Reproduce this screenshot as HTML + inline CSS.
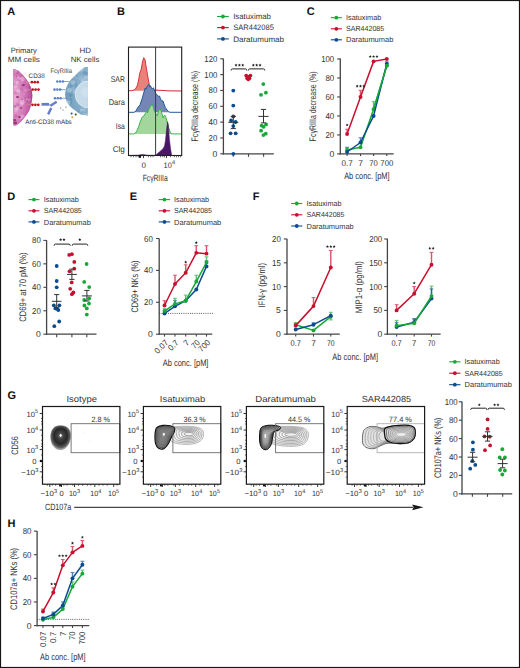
<!DOCTYPE html>
<html><head><meta charset="utf-8"><title>Figure</title>
<style>
html,body{margin:0;padding:0;background:#fff;}
body{width:520px;height:668px;overflow:hidden;}
svg{display:block;font-family:"Liberation Sans", sans-serif;fill:#333333;text-rendering:geometricPrecision;}
</style></head>
<body>
<svg width="520" height="668" viewBox="0 0 520 668">
<rect x="0" y="0" width="520" height="668" fill="#fff"/>
<text x="7.3" y="15.3" font-size="11" fill="#111" font-weight="bold">A</text>
<text x="23.8" y="52.6" font-size="7.6" text-anchor="middle" textLength="26.2" lengthAdjust="spacingAndGlyphs">Primary</text>
<text x="23.8" y="62.2" font-size="7.6" text-anchor="middle" textLength="32" lengthAdjust="spacingAndGlyphs">MM cells</text>
<text x="85.2" y="52.8" font-size="7.6" text-anchor="middle" textLength="11.5" lengthAdjust="spacingAndGlyphs">HD</text>
<text x="85" y="62.3" font-size="7.6" text-anchor="middle" textLength="28.6" lengthAdjust="spacingAndGlyphs">NK cells</text>
<defs><radialGradient id="pk" cx="0.05" cy="0.5" r="0.95"><stop offset="0" stop-color="#e6a9d2"/><stop offset="0.55" stop-color="#d37ab8"/><stop offset="0.85" stop-color="#c25aa3"/><stop offset="1" stop-color="#a8408a"/></radialGradient><radialGradient id="bl" cx="0.95" cy="0.5" r="0.95"><stop offset="0" stop-color="#9fc0d6"/><stop offset="0.6" stop-color="#80a9c6"/><stop offset="1" stop-color="#6d9bbd"/></radialGradient><clipPath id="pc"><path d="M13.4,68.9 C14.15,69.15 16.33,69.4 17.9,70.4 C19.47,71.4 21.15,73.08 22.8,74.9 C24.45,76.72 26.4,79 27.8,81.3 C29.2,83.6 30.45,86.32 31.2,88.7 C31.95,91.08 32.28,93.13 32.3,95.6 C32.32,98.07 31.82,101.03 31.3,103.5 C30.78,105.97 30.2,108.27 29.2,110.4 C28.2,112.53 26.7,114.4 25.3,116.3 C23.9,118.2 22.28,120.32 20.8,121.8 C19.32,123.28 17.63,124.57 16.4,125.2 C15.17,125.83 13.9,125.53 13.4,125.6 Z"/></clipPath><clipPath id="bc"><path d="M87.9,67 C87.42,67.05 86.32,66.68 85,67.3 C83.68,67.92 81.72,69.27 80,70.7 C78.28,72.13 76.3,74.32 74.7,75.9 C73.1,77.48 71.77,78.32 70.4,80.2 C69.03,82.08 67.37,84.73 66.5,87.2 C65.63,89.67 65.2,92.7 65.2,95 C65.2,97.3 65.7,99.13 66.5,101 C67.3,102.87 68.55,104.6 70,106.2 C71.45,107.8 73.4,109.22 75.2,110.6 C77,111.98 78.68,113.63 80.8,114.5 C82.92,115.37 86.72,115.58 87.9,115.8 Z"/></clipPath></defs>
<path d="M13.4,68.9 C14.15,69.15 16.33,69.4 17.9,70.4 C19.47,71.4 21.15,73.08 22.8,74.9 C24.45,76.72 26.4,79 27.8,81.3 C29.2,83.6 30.45,86.32 31.2,88.7 C31.95,91.08 32.28,93.13 32.3,95.6 C32.32,98.07 31.82,101.03 31.3,103.5 C30.78,105.97 30.2,108.27 29.2,110.4 C28.2,112.53 26.7,114.4 25.3,116.3 C23.9,118.2 22.28,120.32 20.8,121.8 C19.32,123.28 17.63,124.57 16.4,125.2 C15.17,125.83 13.9,125.53 13.4,125.6 Z" fill="url(#pk)" stroke="none" stroke-width="1"/>
<g clip-path="url(#pc)">
<circle cx="19.48" cy="77.6" r="1.97" fill="#f2c8e4" opacity="0.41"/>
<circle cx="20.31" cy="72.31" r="1.71" fill="#f2c8e4" opacity="0.38"/>
<circle cx="14.4" cy="74.17" r="1.09" fill="#a53d86" opacity="0.24"/>
<circle cx="17.46" cy="104.76" r="1.75" fill="#a53d86" opacity="0.32"/>
<circle cx="32.53" cy="71.66" r="2.35" fill="#f2c8e4" opacity="0.29"/>
<circle cx="15.36" cy="86.58" r="2.27" fill="#f2c8e4" opacity="0.42"/>
<circle cx="25.78" cy="90.23" r="1.79" fill="#f2c8e4" opacity="0.27"/>
<circle cx="17.12" cy="107.78" r="1.57" fill="#f2c8e4" opacity="0.43"/>
<circle cx="22.06" cy="86.09" r="1.56" fill="#a53d86" opacity="0.27"/>
<circle cx="24.49" cy="98.94" r="1.66" fill="#a53d86" opacity="0.29"/>
<circle cx="32.6" cy="75.73" r="1.09" fill="#a53d86" opacity="0.25"/>
<circle cx="22.78" cy="71.23" r="1.4" fill="#a53d86" opacity="0.37"/>
<circle cx="30.51" cy="86.88" r="1.44" fill="#a53d86" opacity="0.37"/>
<circle cx="22.12" cy="116.88" r="2.5" fill="#f2c8e4" opacity="0.45"/>
<circle cx="14.21" cy="108.99" r="1.38" fill="#a53d86" opacity="0.45"/>
<circle cx="18.69" cy="90.99" r="2" fill="#f2c8e4" opacity="0.39"/>
<circle cx="16.36" cy="75.67" r="0.63" fill="#a53d86" opacity="0.24"/>
<circle cx="17.95" cy="91.28" r="2.37" fill="#f2c8e4" opacity="0.38"/>
<circle cx="23.99" cy="119.35" r="1.59" fill="#a53d86" opacity="0.28"/>
<circle cx="21.31" cy="89.45" r="1.67" fill="#a53d86" opacity="0.25"/>
<circle cx="16.52" cy="82.22" r="1.22" fill="#f2c8e4" opacity="0.43"/>
<circle cx="18.25" cy="69.23" r="1.55" fill="#f2c8e4" opacity="0.42"/>
<circle cx="32.06" cy="108.36" r="1.21" fill="#a53d86" opacity="0.4"/>
<circle cx="14.08" cy="120.27" r="1.54" fill="#a53d86" opacity="0.44"/>
<circle cx="20.85" cy="91.74" r="0.69" fill="#a53d86" opacity="0.22"/>
<circle cx="14.35" cy="80.9" r="1.09" fill="#f2c8e4" opacity="0.27"/>
<circle cx="13" cy="77.62" r="0.98" fill="#f2c8e4" opacity="0.26"/>
<circle cx="30.49" cy="104" r="1.07" fill="#f2c8e4" opacity="0.35"/>
<circle cx="20.28" cy="76" r="1.63" fill="#a53d86" opacity="0.34"/>
<circle cx="22.68" cy="73.9" r="0.98" fill="#f2c8e4" opacity="0.33"/>
<circle cx="29.58" cy="78.2" r="0.59" fill="#a53d86" opacity="0.36"/>
<circle cx="15.93" cy="99.96" r="0.85" fill="#f2c8e4" opacity="0.54"/>
<circle cx="30.27" cy="108.68" r="1.27" fill="#f2c8e4" opacity="0.3"/>
<circle cx="28.44" cy="99.36" r="2.2" fill="#f2c8e4" opacity="0.32"/>
<circle cx="29.23" cy="125.14" r="1.63" fill="#a53d86" opacity="0.45"/>
<circle cx="27.8" cy="81.92" r="1.73" fill="#f2c8e4" opacity="0.26"/>
<circle cx="13.56" cy="84.93" r="0.89" fill="#a53d86" opacity="0.49"/>
<circle cx="21.94" cy="122.41" r="1.8" fill="#a53d86" opacity="0.31"/>
<circle cx="17.41" cy="81.93" r="1.15" fill="#f2c8e4" opacity="0.44"/>
<circle cx="31.01" cy="116.9" r="1.16" fill="#a53d86" opacity="0.44"/>
<circle cx="14.7" cy="106.65" r="1.71" fill="#a53d86" opacity="0.43"/>
<circle cx="22.56" cy="79.18" r="2.22" fill="#f2c8e4" opacity="0.49"/>
<circle cx="32.43" cy="91.56" r="1.07" fill="#a53d86" opacity="0.42"/>
<circle cx="16.4" cy="76.24" r="0.75" fill="#a53d86" opacity="0.44"/>
<circle cx="15.92" cy="116.11" r="1.8" fill="#a53d86" opacity="0.31"/>
<circle cx="23.97" cy="76.47" r="0.58" fill="#a53d86" opacity="0.39"/>
<circle cx="23.53" cy="122.22" r="1.11" fill="#a53d86" opacity="0.45"/>
<circle cx="17.22" cy="83.35" r="1.33" fill="#f2c8e4" opacity="0.43"/>
<circle cx="18.19" cy="92.88" r="0.73" fill="#a53d86" opacity="0.31"/>
<circle cx="22.16" cy="102.25" r="2.43" fill="#f2c8e4" opacity="0.53"/>
<circle cx="23.03" cy="99.31" r="1.74" fill="#f2c8e4" opacity="0.38"/>
<circle cx="16.66" cy="69.22" r="2.24" fill="#f2c8e4" opacity="0.39"/>
<circle cx="27.5" cy="100.72" r="1.39" fill="#f2c8e4" opacity="0.42"/>
<circle cx="28.69" cy="75.05" r="1.81" fill="#f2c8e4" opacity="0.33"/>
<circle cx="28.45" cy="97.94" r="1.27" fill="#a53d86" opacity="0.47"/>
<circle cx="21.86" cy="103.91" r="1.71" fill="#f2c8e4" opacity="0.46"/>
<circle cx="22.05" cy="99.4" r="1.16" fill="#a53d86" opacity="0.41"/>
<circle cx="30.53" cy="122.7" r="0.89" fill="#a53d86" opacity="0.48"/>
<circle cx="29.8" cy="76.82" r="1.02" fill="#f2c8e4" opacity="0.27"/>
<circle cx="17.81" cy="73.17" r="1.4" fill="#a53d86" opacity="0.47"/>
<circle cx="16.09" cy="109.82" r="1.99" fill="#f2c8e4" opacity="0.51"/>
<circle cx="32.35" cy="81.52" r="2.51" fill="#f2c8e4" opacity="0.4"/>
<circle cx="32.8" cy="116.45" r="1.09" fill="#f2c8e4" opacity="0.4"/>
<circle cx="19.78" cy="80.16" r="0.96" fill="#a53d86" opacity="0.21"/>
<circle cx="24.08" cy="94.11" r="0.83" fill="#f2c8e4" opacity="0.44"/>
<circle cx="23.25" cy="72.66" r="1.8" fill="#a53d86" opacity="0.49"/>
<circle cx="15.1" cy="84.14" r="0.61" fill="#a53d86" opacity="0.28"/>
<circle cx="15.59" cy="93.07" r="1.71" fill="#a53d86" opacity="0.28"/>
<circle cx="15.99" cy="121.39" r="1.28" fill="#a53d86" opacity="0.23"/>
<circle cx="14.15" cy="108.23" r="1.57" fill="#f2c8e4" opacity="0.53"/>
<ellipse cx="23.5" cy="85" rx="1.43" ry="0.88" fill="#7a1f5f" opacity="0.75"/>
<ellipse cx="17.5" cy="97" rx="1.56" ry="0.96" fill="#7a1f5f" opacity="0.75"/>
<ellipse cx="21" cy="108" rx="1.3" ry="0.8" fill="#7a1f5f" opacity="0.75"/>
<ellipse cx="27.5" cy="101" rx="1.17" ry="0.72" fill="#7a1f5f" opacity="0.75"/>
<ellipse cx="19.5" cy="117" rx="1.43" ry="0.88" fill="#7a1f5f" opacity="0.75"/>
<ellipse cx="15" cy="123" rx="2.08" ry="1.28" fill="#7a1f5f" opacity="0.75"/>
<ellipse cx="14.5" cy="120" rx="1.69" ry="1.04" fill="#7a1f5f" opacity="0.75"/>
<path d="M13.4,68.9 C14.15,69.15 16.33,69.4 17.9,70.4 C19.47,71.4 21.15,73.08 22.8,74.9 C24.45,76.72 26.4,79 27.8,81.3 C29.2,83.6 30.45,86.32 31.2,88.7 C31.95,91.08 32.28,93.13 32.3,95.6 C32.32,98.07 31.82,101.03 31.3,103.5 C30.78,105.97 30.2,108.27 29.2,110.4 C28.2,112.53 26.7,114.4 25.3,116.3 C23.9,118.2 22.28,120.32 20.8,121.8 C19.32,123.28 17.63,124.57 16.4,125.2 C15.17,125.83 13.9,125.53 13.4,125.6 Z" fill="none" stroke="#b24595" stroke-width="1.2" opacity="0.6"/>
</g>
<path d="M87.9,67 C87.42,67.05 86.32,66.68 85,67.3 C83.68,67.92 81.72,69.27 80,70.7 C78.28,72.13 76.3,74.32 74.7,75.9 C73.1,77.48 71.77,78.32 70.4,80.2 C69.03,82.08 67.37,84.73 66.5,87.2 C65.63,89.67 65.2,92.7 65.2,95 C65.2,97.3 65.7,99.13 66.5,101 C67.3,102.87 68.55,104.6 70,106.2 C71.45,107.8 73.4,109.22 75.2,110.6 C77,111.98 78.68,113.63 80.8,114.5 C82.92,115.37 86.72,115.58 87.9,115.8 Z" fill="url(#bl)" stroke="none" stroke-width="1"/>
<g clip-path="url(#bc)">
<circle cx="79.59" cy="106.28" r="0.76" fill="#4f82a8" opacity="0.17"/>
<circle cx="84.84" cy="89.23" r="1.13" fill="#4f82a8" opacity="0.38"/>
<circle cx="71.16" cy="73.33" r="1.75" fill="#c4dbe9" opacity="0.23"/>
<circle cx="68.71" cy="69.47" r="1.16" fill="#c4dbe9" opacity="0.29"/>
<circle cx="82.47" cy="81.21" r="1.7" fill="#c4dbe9" opacity="0.3"/>
<circle cx="65.42" cy="79.27" r="0.66" fill="#4f82a8" opacity="0.29"/>
<circle cx="69.36" cy="90.26" r="2.48" fill="#c4dbe9" opacity="0.45"/>
<circle cx="74.94" cy="91.26" r="2.3" fill="#c4dbe9" opacity="0.35"/>
<circle cx="80.82" cy="115.14" r="1.13" fill="#4f82a8" opacity="0.33"/>
<circle cx="79.63" cy="86.83" r="1.43" fill="#c4dbe9" opacity="0.24"/>
<circle cx="66.63" cy="103.3" r="1.26" fill="#c4dbe9" opacity="0.23"/>
<circle cx="84.35" cy="109.66" r="2.01" fill="#c4dbe9" opacity="0.27"/>
<circle cx="71.74" cy="89.51" r="1.08" fill="#c4dbe9" opacity="0.28"/>
<circle cx="87.12" cy="114.66" r="1.78" fill="#c4dbe9" opacity="0.49"/>
<circle cx="72.12" cy="84.47" r="0.8" fill="#c4dbe9" opacity="0.34"/>
<circle cx="76.56" cy="76.85" r="1.71" fill="#c4dbe9" opacity="0.28"/>
<circle cx="67.06" cy="86.58" r="0.88" fill="#c4dbe9" opacity="0.29"/>
<circle cx="70.35" cy="95.69" r="1.4" fill="#4f82a8" opacity="0.31"/>
<circle cx="81.47" cy="110.08" r="1.5" fill="#c4dbe9" opacity="0.5"/>
<circle cx="68.44" cy="102.48" r="1.96" fill="#c4dbe9" opacity="0.45"/>
<circle cx="85.51" cy="97.74" r="1.7" fill="#4f82a8" opacity="0.18"/>
<circle cx="77.05" cy="91.71" r="1.84" fill="#4f82a8" opacity="0.36"/>
<circle cx="78.43" cy="110.75" r="1.62" fill="#4f82a8" opacity="0.21"/>
<circle cx="65.72" cy="73.52" r="1.45" fill="#c4dbe9" opacity="0.45"/>
<circle cx="77.85" cy="97.76" r="1.54" fill="#4f82a8" opacity="0.27"/>
<circle cx="65.08" cy="106.09" r="1.72" fill="#4f82a8" opacity="0.28"/>
<circle cx="80.16" cy="70.24" r="2.13" fill="#c4dbe9" opacity="0.22"/>
<circle cx="71.11" cy="102.74" r="0.94" fill="#4f82a8" opacity="0.39"/>
<circle cx="76.36" cy="85.75" r="1.33" fill="#4f82a8" opacity="0.34"/>
<circle cx="79.19" cy="98.5" r="0.94" fill="#c4dbe9" opacity="0.28"/>
<circle cx="82.09" cy="81.92" r="1.82" fill="#c4dbe9" opacity="0.22"/>
<circle cx="71.18" cy="99.93" r="1.64" fill="#4f82a8" opacity="0.22"/>
<circle cx="76.88" cy="89.77" r="1.64" fill="#c4dbe9" opacity="0.47"/>
<circle cx="69.58" cy="114.93" r="2.49" fill="#c4dbe9" opacity="0.34"/>
<circle cx="83.86" cy="114.44" r="1.61" fill="#c4dbe9" opacity="0.26"/>
<circle cx="86.75" cy="77.32" r="1.85" fill="#c4dbe9" opacity="0.36"/>
<circle cx="86.91" cy="73.5" r="1.82" fill="#4f82a8" opacity="0.37"/>
<circle cx="81.18" cy="78.34" r="2.42" fill="#c4dbe9" opacity="0.21"/>
<circle cx="65.08" cy="91.09" r="1.61" fill="#c4dbe9" opacity="0.24"/>
<circle cx="72.91" cy="82.49" r="2.31" fill="#c4dbe9" opacity="0.43"/>
<circle cx="84.3" cy="72.88" r="1.97" fill="#4f82a8" opacity="0.38"/>
<circle cx="71.67" cy="85.24" r="1.21" fill="#4f82a8" opacity="0.3"/>
<circle cx="73.3" cy="87.97" r="1.3" fill="#c4dbe9" opacity="0.23"/>
<circle cx="84.2" cy="81" r="2.48" fill="#c4dbe9" opacity="0.28"/>
<circle cx="76.75" cy="76.3" r="1.18" fill="#4f82a8" opacity="0.37"/>
<circle cx="83.68" cy="97.91" r="1.96" fill="#4f82a8" opacity="0.29"/>
<circle cx="81.55" cy="69.42" r="2.12" fill="#c4dbe9" opacity="0.43"/>
<circle cx="79.82" cy="81.02" r="0.71" fill="#4f82a8" opacity="0.18"/>
<circle cx="75.86" cy="83.84" r="1.07" fill="#4f82a8" opacity="0.39"/>
<circle cx="70.98" cy="99.14" r="1.07" fill="#4f82a8" opacity="0.25"/>
<circle cx="68.85" cy="74.92" r="0.94" fill="#4f82a8" opacity="0.27"/>
<circle cx="70.06" cy="111.41" r="2.59" fill="#c4dbe9" opacity="0.24"/>
<circle cx="69.43" cy="71.45" r="1.42" fill="#c4dbe9" opacity="0.27"/>
<circle cx="70.94" cy="94.91" r="1.92" fill="#4f82a8" opacity="0.25"/>
<circle cx="74.52" cy="92.68" r="1.48" fill="#c4dbe9" opacity="0.22"/>
<circle cx="71.38" cy="114.42" r="0.82" fill="#4f82a8" opacity="0.31"/>
<circle cx="84.85" cy="77.58" r="1.29" fill="#c4dbe9" opacity="0.32"/>
<circle cx="75.25" cy="113.74" r="1.86" fill="#4f82a8" opacity="0.16"/>
<circle cx="65.74" cy="101.77" r="2.41" fill="#c4dbe9" opacity="0.38"/>
<circle cx="65" cy="86.18" r="1.97" fill="#4f82a8" opacity="0.36"/>
<circle cx="88.6" cy="94.5" r="13.4" fill="#c6dbe8"/><circle cx="88.6" cy="94.5" r="13.4" fill="none" stroke="#e2eef5" stroke-width="0.8"/><circle cx="86" cy="92" r="5" fill="#d2e4ee" opacity="0.6"/>
</g>
<text x="36.7" y="77.9" font-size="6.6" text-anchor="middle" textLength="16.2" lengthAdjust="spacingAndGlyphs">CD38</text>
<line x1="26.5" y1="82.2" x2="31.7" y2="82.2" stroke="#c9967a" stroke-width="0.7"/>
<circle cx="31.9" cy="82.2" r="1.35" fill="#c0141e"/>
<circle cx="34.8" cy="82.2" r="1.35" fill="#c0141e"/>
<circle cx="37.7" cy="82.2" r="1.35" fill="#c0141e"/>
<line x1="26.5" y1="89.6" x2="32.5" y2="89.6" stroke="#c9967a" stroke-width="0.7"/>
<circle cx="32.7" cy="89.6" r="1.35" fill="#c0141e"/>
<circle cx="35.6" cy="89.6" r="1.35" fill="#c0141e"/>
<circle cx="38.5" cy="89.6" r="1.35" fill="#c0141e"/>
<line x1="26.5" y1="104.8" x2="32.3" y2="104.8" stroke="#c9967a" stroke-width="0.7"/>
<circle cx="32.5" cy="104.8" r="1.35" fill="#c0141e"/>
<circle cx="35.4" cy="104.8" r="1.35" fill="#c0141e"/>
<circle cx="38.3" cy="104.8" r="1.35" fill="#c0141e"/>
<text x="61.2" y="72.6" font-size="6.6" text-anchor="middle" textLength="21.5" lengthAdjust="spacingAndGlyphs">Fc&#947;RIIIa</text>
<line x1="62.3" y1="81.5" x2="69.2" y2="81.5" stroke="#5b7fc9" stroke-width="0.7"/>
<circle cx="57.3" cy="81.5" r="1.3" fill="#5a80cc"/>
<circle cx="60.1" cy="81.5" r="1.3" fill="#5a80cc"/>
<circle cx="62.9" cy="81.5" r="1.3" fill="#5a80cc"/>
<line x1="59.5" y1="89.6" x2="65.6" y2="89.6" stroke="#5b7fc9" stroke-width="0.7"/>
<circle cx="54.5" cy="89.6" r="1.3" fill="#5a80cc"/>
<circle cx="57.3" cy="89.6" r="1.3" fill="#5a80cc"/>
<circle cx="60.1" cy="89.6" r="1.3" fill="#5a80cc"/>
<line x1="60" y1="98.3" x2="67.3" y2="98.3" stroke="#5b7fc9" stroke-width="0.7"/>
<circle cx="55" cy="98.3" r="1.3" fill="#5a80cc"/>
<circle cx="57.8" cy="98.3" r="1.3" fill="#5a80cc"/>
<circle cx="60.6" cy="98.3" r="1.3" fill="#5a80cc"/>
<line x1="41.5" y1="104.3" x2="49.1" y2="104.3" stroke="#6a7cc6" stroke-width="2.8"/>
<line x1="49" y1="104.6" x2="50.8" y2="105.9" stroke="#6a7cc6" stroke-width="0.8"/>
<line x1="50.4" y1="105.8" x2="56.7" y2="101.7" stroke="#6a7cc6" stroke-width="2.4"/>
<line x1="51.3" y1="108" x2="48.1" y2="114.4" stroke="#6a7cc6" stroke-width="2.4"/>
<circle cx="60.6" cy="108.2" r="0.9" fill="#b9b9b9"/>
<circle cx="63" cy="110.1" r="0.9" fill="#b9b9b9"/>
<circle cx="65.9" cy="107.2" r="0.9" fill="#b9b9b9"/>
<circle cx="71.6" cy="113.5" r="1" fill="#1d4f9e"/>
<circle cx="75.7" cy="114.5" r="1" fill="#2b4d27"/>
<circle cx="72.3" cy="117.3" r="1" fill="#e0a629"/>
<text x="48.5" y="123.7" font-size="6.6" text-anchor="middle" textLength="46.5" lengthAdjust="spacingAndGlyphs">Anti-CD38 mAbs</text>
<text x="116.9" y="15.1" font-size="11" fill="#111" font-weight="bold">B</text>
<path d="M128.5,90.8 L133,90.5 L135.5,89 L137.5,85 L139,78 L139.6,73.5 L141,70 L142.5,62 L143.7,57.7 L145,59.5 L146,66 L147.5,75 L149.2,84.2 L151,88.3 L153.8,90 L160,90.3 L170,90.9 L181.7,91 L181.7,90.8 L128.5,90.8 Z" fill="#e8837c" stroke="none" stroke-width="1"/>
<polyline points="128.5,90.8 133,90.5 135.5,89 137.5,85 139,78 139.6,73.5 141,70 142.5,62 143.7,57.7 145,59.5 146,66 147.5,75 149.2,84.2 151,88.3 153.8,90 160,90.3 170,90.9 181.7,91" fill="none" stroke="#d5343f" stroke-width="1" stroke-linejoin="round"/>
<path d="M128.5,112.3 L134,112.3 L136,111 L137.5,108 L140,104.8 L142,99 L144,92 L145.2,88 L146,89.2 L147,86.5 L148.7,84.4 L149.5,87 L150.5,85.8 L151.5,88.2 L152.7,88.7 L153.5,87.7 L154.5,91 L155.6,93.3 L157,95 L158.5,96.2 L159.5,96 L160.5,99 L161.9,100.8 L163,101 L164,104 L165.4,107.7 L167,110 L168.5,111.6 L170,112.3 L181.7,112.3 L181.7,112.3 L128.5,112.3 Z" fill="#7486b5" stroke="none" stroke-width="1"/>
<polyline points="128.5,112.3 134,112.3 136,111 137.5,108 140,104.8 142,99 144,92 145.2,88 146,89.2 147,86.5 148.7,84.4 149.5,87 150.5,85.8 151.5,88.2 152.7,88.7 153.5,87.7 154.5,91 155.6,93.3 157,95 158.5,96.2 159.5,96 160.5,99 161.9,100.8 163,101 164,104 165.4,107.7 167,110 168.5,111.6 170,112.3 181.7,112.3" fill="none" stroke="#225c98" stroke-width="1" stroke-linejoin="round"/>
<path d="M128.5,133.9 L133.7,133.9 L135.5,133 L137,130.5 L138.8,126.2 L140.5,121 L142.3,116.9 L144,116 L145,114 L146.9,111.2 L147.5,113 L148.5,110 L150,107 L151,105.5 L152.1,104.8 L153,106 L154,110 L155,112.3 L156,114 L157.3,115.8 L158.5,111 L160.2,108.8 L161.5,112 L163,118 L164,116 L164.8,115.2 L165.5,116.2 L167.1,121.5 L168.5,127 L170.6,133.3 L172,133.9 L181.7,133.9 L181.7,133.9 L128.5,133.9 Z" fill="#a3d69c" stroke="none" stroke-width="1"/>
<polyline points="128.5,133.9 133.7,133.9 135.5,133 137,130.5 138.8,126.2 140.5,121 142.3,116.9 144,116 145,114 146.9,111.2 147.5,113 148.5,110 150,107 151,105.5 152.1,104.8 153,106 154,110 155,112.3 156,114 157.3,115.8 158.5,111 160.2,108.8 161.5,112 163,118 164,116 164.8,115.2 165.5,116.2 167.1,121.5 168.5,127 170.6,133.3 172,133.9 181.7,133.9" fill="none" stroke="#3db54a" stroke-width="1" stroke-linejoin="round"/>
<path d="M128.5,155.5 L138,155.2 L140,154.8 L143,154.5 L146,155 L148,155.3 L155.2,155.3 L157,154 L159.6,151.7 L163,148.8 L164.5,146 L165.4,140.8 L166.5,130 L167.5,121.7 L168.2,124 L168.8,131.5 L169.5,140 L170.6,148.8 L171.7,155.5 Z" fill="#4a1766" stroke="#4a1766" stroke-width="0.5"/>
<line x1="155.6" y1="47.1" x2="155.6" y2="155.5" stroke="#3a3a3a" stroke-width="1"/>
<rect x="128.5" y="47.1" width="53.2" height="108.4" fill="none" stroke="#1e1e1e" stroke-width="1.1"/>
<line x1="131" y1="155.5" x2="131" y2="157.3" stroke="#333" stroke-width="0.7"/>
<line x1="133.5" y1="155.5" x2="133.5" y2="157.3" stroke="#333" stroke-width="0.7"/>
<line x1="136" y1="155.5" x2="136" y2="157.3" stroke="#333" stroke-width="0.7"/>
<line x1="138.2" y1="155.5" x2="138.2" y2="157.3" stroke="#333" stroke-width="0.7"/>
<line x1="143.5" y1="155.5" x2="143.5" y2="157.3" stroke="#333" stroke-width="0.7"/>
<line x1="148.5" y1="155.5" x2="148.5" y2="157.3" stroke="#333" stroke-width="0.7"/>
<line x1="150.8" y1="155.5" x2="150.8" y2="157.3" stroke="#333" stroke-width="0.7"/>
<line x1="153" y1="155.5" x2="153" y2="157.3" stroke="#333" stroke-width="0.7"/>
<line x1="160.5" y1="155.5" x2="160.5" y2="157.3" stroke="#333" stroke-width="0.7"/>
<line x1="162.8" y1="155.5" x2="162.8" y2="157.3" stroke="#333" stroke-width="0.7"/>
<line x1="164.5" y1="155.5" x2="164.5" y2="157.3" stroke="#333" stroke-width="0.7"/>
<line x1="166.5" y1="155.5" x2="166.5" y2="157.3" stroke="#333" stroke-width="0.7"/>
<line x1="170.5" y1="155.5" x2="170.5" y2="157.3" stroke="#333" stroke-width="0.7"/>
<line x1="174.3" y1="155.5" x2="174.3" y2="157.3" stroke="#333" stroke-width="0.7"/>
<line x1="176.5" y1="155.5" x2="176.5" y2="157.3" stroke="#333" stroke-width="0.7"/>
<line x1="178.5" y1="155.5" x2="178.5" y2="157.3" stroke="#333" stroke-width="0.7"/>
<line x1="180.5" y1="155.5" x2="180.5" y2="157.3" stroke="#333" stroke-width="0.7"/>
<line x1="143.5" y1="155.5" x2="143.5" y2="158.1" stroke="#333" stroke-width="0.9"/>
<line x1="166.5" y1="155.5" x2="166.5" y2="158.1" stroke="#333" stroke-width="0.9"/>
<rect x="138.8" y="155.6" width="2.2" height="2.2" fill="#111"/>
<text x="143.8" y="167.6" font-size="8" text-anchor="middle">0</text>
<text x="163.6" y="167.6" font-size="8" textLength="8.2" lengthAdjust="spacingAndGlyphs">10</text>
<text x="172" y="164" font-size="5.6">4</text>
<text x="155.2" y="180.8" font-size="9" text-anchor="middle" textLength="25" lengthAdjust="spacingAndGlyphs">Fc&#947;RIIIa</text>
<text x="124.9" y="82.2" font-size="8.3" text-anchor="end" textLength="14.2" lengthAdjust="spacingAndGlyphs">SAR</text>
<text x="124.9" y="105.4" font-size="8.3" text-anchor="end" textLength="16.2" lengthAdjust="spacingAndGlyphs">Dara</text>
<text x="124.9" y="128.6" font-size="8.3" text-anchor="end" textLength="9.1" lengthAdjust="spacingAndGlyphs">Isa</text>
<text x="124.9" y="151.6" font-size="8.3" text-anchor="end" textLength="12.2" lengthAdjust="spacingAndGlyphs">Clg</text>
<line x1="217.1" y1="16.5" x2="228.8" y2="16.5" stroke="#17a837" stroke-width="1.1"/>
<circle cx="222.95" cy="16.5" r="1.9" fill="#17a837"/>
<text x="233.2" y="19.1" font-size="7.9" textLength="37.7" lengthAdjust="spacingAndGlyphs">Isatuximab</text>
<line x1="217.1" y1="27.6" x2="228.8" y2="27.6" stroke="#c8102e" stroke-width="1.1"/>
<circle cx="222.95" cy="27.6" r="1.9" fill="#c8102e"/>
<text x="233.2" y="30.2" font-size="7.9" textLength="40.7" lengthAdjust="spacingAndGlyphs">SAR442085</text>
<line x1="217.1" y1="38.9" x2="228.8" y2="38.9" stroke="#0b4b8f" stroke-width="1.1"/>
<circle cx="222.95" cy="38.9" r="1.9" fill="#0b4b8f"/>
<text x="233.2" y="41.5" font-size="7.9" textLength="50.8" lengthAdjust="spacingAndGlyphs">Daratumumab</text>
<line x1="223.4" y1="154.4" x2="223.4" y2="58.6" stroke="#444444" stroke-width="1.3"/>
<line x1="220.2" y1="153.8" x2="223.4" y2="153.8" stroke="#444444" stroke-width="1.1"/>
<text x="217.3" y="156.8" font-size="8.6" text-anchor="end">0</text>
<line x1="220.2" y1="137.97" x2="223.4" y2="137.97" stroke="#444444" stroke-width="1.1"/>
<text x="217.3" y="140.97" font-size="8.6" text-anchor="end" textLength="8.8" lengthAdjust="spacingAndGlyphs">20</text>
<line x1="220.2" y1="122.13" x2="223.4" y2="122.13" stroke="#444444" stroke-width="1.1"/>
<text x="217.3" y="125.13" font-size="8.6" text-anchor="end" textLength="8.8" lengthAdjust="spacingAndGlyphs">40</text>
<line x1="220.2" y1="106.3" x2="223.4" y2="106.3" stroke="#444444" stroke-width="1.1"/>
<text x="217.3" y="109.3" font-size="8.6" text-anchor="end" textLength="8.8" lengthAdjust="spacingAndGlyphs">60</text>
<line x1="220.2" y1="90.46" x2="223.4" y2="90.46" stroke="#444444" stroke-width="1.1"/>
<text x="217.3" y="93.46" font-size="8.6" text-anchor="end" textLength="8.8" lengthAdjust="spacingAndGlyphs">80</text>
<line x1="220.2" y1="74.63" x2="223.4" y2="74.63" stroke="#444444" stroke-width="1.1"/>
<text x="217.3" y="77.63" font-size="8.6" text-anchor="end" textLength="13" lengthAdjust="spacingAndGlyphs">100</text>
<line x1="220.2" y1="58.8" x2="223.4" y2="58.8" stroke="#444444" stroke-width="1.1"/>
<text x="217.3" y="61.8" font-size="8.6" text-anchor="end" textLength="13" lengthAdjust="spacingAndGlyphs">120</text>
<line x1="222.75" y1="153.8" x2="273.8" y2="153.8" stroke="#444444" stroke-width="1.3"/>
<line x1="233.3" y1="153.8" x2="233.3" y2="156.8" stroke="#444444" stroke-width="1.1"/>
<line x1="248.5" y1="153.8" x2="248.5" y2="156.8" stroke="#444444" stroke-width="1.1"/>
<line x1="263.6" y1="153.8" x2="263.6" y2="156.8" stroke="#444444" stroke-width="1.1"/>
<text x="197.7" y="106.2" font-size="9.5" text-anchor="middle" textLength="70.5" lengthAdjust="spacingAndGlyphs" transform="rotate(-90 197.7 106.2)">Fc&#947;RIIIa decrease (%)</text>
<circle cx="233.3" cy="90.6" r="1.9" fill="#0b4b8f"/>
<circle cx="233.3" cy="105.6" r="1.9" fill="#0b4b8f"/>
<circle cx="233.3" cy="116.4" r="1.9" fill="#0b4b8f"/>
<circle cx="231.1" cy="120.5" r="1.9" fill="#0b4b8f"/>
<circle cx="235.6" cy="122" r="1.9" fill="#0b4b8f"/>
<circle cx="233.3" cy="126.1" r="1.9" fill="#0b4b8f"/>
<circle cx="230.6" cy="133.3" r="1.9" fill="#0b4b8f"/>
<circle cx="235.7" cy="133.3" r="1.9" fill="#0b4b8f"/>
<circle cx="233.3" cy="153.8" r="1.9" fill="#0b4b8f"/>
<line x1="228.3" y1="122.3" x2="238.3" y2="122.3" stroke="#333" stroke-width="1"/>
<line x1="233.3" y1="116.4" x2="233.3" y2="128.6" stroke="#333" stroke-width="1"/>
<line x1="230.7" y1="116.4" x2="235.9" y2="116.4" stroke="#333" stroke-width="1"/>
<line x1="230.7" y1="128.6" x2="235.9" y2="128.6" stroke="#333" stroke-width="1"/>
<circle cx="246.2" cy="75.6" r="1.9" fill="#c8102e"/>
<circle cx="250.4" cy="75.6" r="1.9" fill="#c8102e"/>
<circle cx="248.3" cy="76.8" r="1.9" fill="#c8102e"/>
<circle cx="247.2" cy="78.3" r="1.9" fill="#c8102e"/>
<circle cx="249.4" cy="78.3" r="1.9" fill="#c8102e"/>
<circle cx="248.3" cy="79.3" r="1.9" fill="#c8102e"/>
<circle cx="263.3" cy="84.1" r="1.9" fill="#17a837"/>
<circle cx="265.9" cy="92.7" r="1.9" fill="#17a837"/>
<circle cx="261" cy="94.8" r="1.9" fill="#17a837"/>
<circle cx="261.6" cy="125.6" r="1.9" fill="#17a837"/>
<circle cx="263.6" cy="126.8" r="1.9" fill="#17a837"/>
<circle cx="266.1" cy="124.4" r="1.9" fill="#17a837"/>
<circle cx="261.1" cy="130.7" r="1.9" fill="#17a837"/>
<circle cx="263.4" cy="135.1" r="1.9" fill="#17a837"/>
<circle cx="265.8" cy="133.7" r="1.9" fill="#17a837"/>
<line x1="258.4" y1="116.4" x2="268.6" y2="116.4" stroke="#333" stroke-width="1"/>
<line x1="263.5" y1="109.4" x2="263.5" y2="122.9" stroke="#333" stroke-width="1"/>
<line x1="260.9" y1="109.4" x2="266.1" y2="109.4" stroke="#333" stroke-width="1"/>
<line x1="260.9" y1="122.9" x2="266.1" y2="122.9" stroke="#333" stroke-width="1"/>
<path d="M231.1,70.5 Q231.1,68.9 232.3,68.9 L245.6,68.9 Q246.8,68.9 246.8,70.5" fill="none" stroke="#222" stroke-width="1"/>
<path d="M248.4,70.5 Q248.4,68.9 249.6,68.9 L263.6,68.9 Q264.8,68.9 264.8,70.5" fill="none" stroke="#222" stroke-width="1"/>
<polygon points="236.05,63.6 236.47,64.62 237.57,64.71 236.73,65.42 236.99,66.49 236.05,65.92 235.11,66.49 235.37,65.42 234.53,64.71 235.63,64.62" fill="#1e1e1e"/>
<polygon points="239.4,63.6 239.82,64.62 240.92,64.71 240.08,65.42 240.34,66.49 239.4,65.92 238.46,66.49 238.72,65.42 237.88,64.71 238.98,64.62" fill="#1e1e1e"/>
<polygon points="242.75,63.6 243.17,64.62 244.27,64.71 243.43,65.42 243.69,66.49 242.75,65.92 241.81,66.49 242.07,65.42 241.23,64.71 242.33,64.62" fill="#1e1e1e"/>
<polygon points="253.35,63.6 253.77,64.62 254.87,64.71 254.03,65.42 254.29,66.49 253.35,65.92 252.41,66.49 252.67,65.42 251.83,64.71 252.93,64.62" fill="#1e1e1e"/>
<polygon points="256.7,63.6 257.12,64.62 258.22,64.71 257.38,65.42 257.64,66.49 256.7,65.92 255.76,66.49 256.02,65.42 255.18,64.71 256.28,64.62" fill="#1e1e1e"/>
<polygon points="260.05,63.6 260.47,64.62 261.57,64.71 260.73,65.42 260.99,66.49 260.05,65.92 259.11,66.49 259.37,65.42 258.53,64.71 259.63,64.62" fill="#1e1e1e"/>
<text x="306.7" y="15.4" font-size="11" fill="#111" font-weight="bold">C</text>
<line x1="330.8" y1="17.7" x2="341.9" y2="17.7" stroke="#17a837" stroke-width="1.1"/>
<circle cx="336.35" cy="17.7" r="1.9" fill="#17a837"/>
<text x="346" y="20.3" font-size="7.4" textLength="35.3" lengthAdjust="spacingAndGlyphs">Isatuximab</text>
<line x1="330.8" y1="28.8" x2="341.9" y2="28.8" stroke="#c8102e" stroke-width="1.1"/>
<circle cx="336.35" cy="28.8" r="1.9" fill="#c8102e"/>
<text x="346" y="31.4" font-size="7.4" textLength="38.2" lengthAdjust="spacingAndGlyphs">SAR442085</text>
<line x1="330.8" y1="39.8" x2="341.9" y2="39.8" stroke="#0b4b8f" stroke-width="1.1"/>
<circle cx="336.35" cy="39.8" r="1.9" fill="#0b4b8f"/>
<text x="346" y="42.4" font-size="7.4" textLength="47.3" lengthAdjust="spacingAndGlyphs">Daratumumab</text>
<line x1="340.3" y1="154.5" x2="340.3" y2="58.6" stroke="#444444" stroke-width="1.3"/>
<line x1="337.1" y1="153.9" x2="340.3" y2="153.9" stroke="#444444" stroke-width="1.1"/>
<text x="334.2" y="156.9" font-size="8.6" text-anchor="end">0</text>
<line x1="337.1" y1="134.92" x2="340.3" y2="134.92" stroke="#444444" stroke-width="1.1"/>
<text x="334.2" y="137.92" font-size="8.6" text-anchor="end" textLength="8.8" lengthAdjust="spacingAndGlyphs">20</text>
<line x1="337.1" y1="115.94" x2="340.3" y2="115.94" stroke="#444444" stroke-width="1.1"/>
<text x="334.2" y="118.94" font-size="8.6" text-anchor="end" textLength="8.8" lengthAdjust="spacingAndGlyphs">40</text>
<line x1="337.1" y1="96.96" x2="340.3" y2="96.96" stroke="#444444" stroke-width="1.1"/>
<text x="334.2" y="99.96" font-size="8.6" text-anchor="end" textLength="8.8" lengthAdjust="spacingAndGlyphs">60</text>
<line x1="337.1" y1="77.98" x2="340.3" y2="77.98" stroke="#444444" stroke-width="1.1"/>
<text x="334.2" y="80.98" font-size="8.6" text-anchor="end" textLength="8.8" lengthAdjust="spacingAndGlyphs">80</text>
<line x1="337.1" y1="59" x2="340.3" y2="59" stroke="#444444" stroke-width="1.1"/>
<text x="334.2" y="62" font-size="8.6" text-anchor="end" textLength="13" lengthAdjust="spacingAndGlyphs">100</text>
<line x1="339.65" y1="153.9" x2="393.7" y2="153.9" stroke="#444444" stroke-width="1.3"/>
<line x1="347.1" y1="153.9" x2="347.1" y2="156.1" stroke="#444444" stroke-width="1.1"/>
<line x1="360.5" y1="153.9" x2="360.5" y2="156.1" stroke="#444444" stroke-width="1.1"/>
<line x1="373.6" y1="153.9" x2="373.6" y2="156.1" stroke="#444444" stroke-width="1.1"/>
<line x1="386.8" y1="153.9" x2="386.8" y2="156.1" stroke="#444444" stroke-width="1.1"/>
<text x="347.1" y="165.8" font-size="8.4" text-anchor="middle" textLength="11.3" lengthAdjust="spacingAndGlyphs">0.7</text>
<text x="360.5" y="165.8" font-size="8.4" text-anchor="middle">7</text>
<text x="373.6" y="165.8" font-size="8.4" text-anchor="middle" textLength="8.5" lengthAdjust="spacingAndGlyphs">70</text>
<text x="386.8" y="165.8" font-size="8.4" text-anchor="middle" textLength="13" lengthAdjust="spacingAndGlyphs">700</text>
<text x="366.9" y="178.8" font-size="9.3" text-anchor="middle" textLength="45.5" lengthAdjust="spacingAndGlyphs">Ab conc. [pM]</text>
<text x="315.6" y="106.4" font-size="9.5" text-anchor="middle" textLength="70" lengthAdjust="spacingAndGlyphs" transform="rotate(-90 315.6 106.4)">Fc&#947;RIIIa decrease (%)</text>
<g opacity="0.7">
<line x1="347.1" y1="133.97" x2="347.1" y2="129.23" stroke="#c8102e" stroke-width="1.45"/>
<line x1="345.2" y1="129.23" x2="349" y2="129.23" stroke="#c8102e" stroke-width="1"/>
</g>
<g opacity="0.7">
<line x1="360.5" y1="96.96" x2="360.5" y2="90.32" stroke="#c8102e" stroke-width="1.45"/>
<line x1="358.6" y1="90.32" x2="362.4" y2="90.32" stroke="#c8102e" stroke-width="1"/>
</g>
<g opacity="0.7">
<line x1="347.1" y1="152" x2="347.1" y2="147.26" stroke="#0b4b8f" stroke-width="1.45"/>
<line x1="345.2" y1="147.26" x2="349" y2="147.26" stroke="#0b4b8f" stroke-width="1"/>
</g>
<g opacity="0.7">
<line x1="360.5" y1="142.51" x2="360.5" y2="137.77" stroke="#0b4b8f" stroke-width="1.45"/>
<line x1="358.6" y1="137.77" x2="362.4" y2="137.77" stroke="#0b4b8f" stroke-width="1"/>
</g>
<g opacity="0.7">
<line x1="386.8" y1="63.75" x2="386.8" y2="61.85" stroke="#0b4b8f" stroke-width="1.45"/>
<line x1="384.9" y1="61.85" x2="388.7" y2="61.85" stroke="#0b4b8f" stroke-width="1"/>
</g>
<g opacity="0.7">
<line x1="373.6" y1="109.3" x2="373.6" y2="101.71" stroke="#17a837" stroke-width="1.45"/>
<line x1="371.7" y1="101.71" x2="375.5" y2="101.71" stroke="#17a837" stroke-width="1"/>
</g>
<g opacity="0.7">
<line x1="347.1" y1="150.1" x2="347.1" y2="148.21" stroke="#17a837" stroke-width="1.45"/>
<line x1="345.2" y1="148.21" x2="349" y2="148.21" stroke="#17a837" stroke-width="1"/>
</g>
<polyline points="347.1,150.1 360.5,147.26 373.6,109.3 386.8,65.64" fill="none" stroke="#17a837" stroke-width="1.5" stroke-linejoin="round"/>
<circle cx="347.1" cy="150.1" r="1.95" fill="#17a837"/>
<circle cx="360.5" cy="147.26" r="1.95" fill="#17a837"/>
<circle cx="373.6" cy="109.3" r="1.95" fill="#17a837"/>
<circle cx="386.8" cy="65.64" r="1.95" fill="#17a837"/>
<polyline points="347.1,152 360.5,142.51 373.6,115.94 386.8,63.75" fill="none" stroke="#0b4b8f" stroke-width="1.5" stroke-linejoin="round"/>
<circle cx="347.1" cy="152" r="1.95" fill="#0b4b8f"/>
<circle cx="360.5" cy="142.51" r="1.95" fill="#0b4b8f"/>
<circle cx="373.6" cy="115.94" r="1.95" fill="#0b4b8f"/>
<circle cx="386.8" cy="63.75" r="1.95" fill="#0b4b8f"/>
<polyline points="347.1,133.97 360.5,96.96 373.6,61.37 386.8,59" fill="none" stroke="#c8102e" stroke-width="1.5" stroke-linejoin="round"/>
<circle cx="347.1" cy="133.97" r="1.95" fill="#c8102e"/>
<circle cx="360.5" cy="96.96" r="1.95" fill="#c8102e"/>
<circle cx="373.6" cy="61.37" r="1.95" fill="#c8102e"/>
<circle cx="386.8" cy="59" r="1.95" fill="#c8102e"/>
<polyline points="373.6,109.3 386.8,65.64" fill="none" stroke="#17a837" stroke-width="1.5" stroke-linejoin="round"/>
<circle cx="386.8" cy="65.64" r="1.9" fill="#17a837"/>
<polygon points="347.1,123.4 347.52,124.42 348.62,124.51 347.78,125.22 348.04,126.29 347.1,125.72 346.16,126.29 346.42,125.22 345.58,124.51 346.68,124.42" fill="#1e1e1e"/>
<polygon points="357.15,84.6 357.57,85.62 358.67,85.71 357.83,86.42 358.09,87.49 357.15,86.92 356.21,87.49 356.47,86.42 355.63,85.71 356.73,85.62" fill="#1e1e1e"/>
<polygon points="360.5,84.6 360.92,85.62 362.02,85.71 361.18,86.42 361.44,87.49 360.5,86.92 359.56,87.49 359.82,86.42 358.98,85.71 360.08,85.62" fill="#1e1e1e"/>
<polygon points="363.85,84.6 364.27,85.62 365.37,85.71 364.53,86.42 364.79,87.49 363.85,86.92 362.91,87.49 363.17,86.42 362.33,85.71 363.43,85.62" fill="#1e1e1e"/>
<polygon points="370.25,54.9 370.67,55.92 371.77,56.01 370.93,56.72 371.19,57.79 370.25,57.22 369.31,57.79 369.57,56.72 368.73,56.01 369.83,55.92" fill="#1e1e1e"/>
<polygon points="373.6,54.9 374.02,55.92 375.12,56.01 374.28,56.72 374.54,57.79 373.6,57.22 372.66,57.79 372.92,56.72 372.08,56.01 373.18,55.92" fill="#1e1e1e"/>
<polygon points="376.95,54.9 377.37,55.92 378.47,56.01 377.63,56.72 377.89,57.79 376.95,57.22 376.01,57.79 376.27,56.72 375.43,56.01 376.53,55.92" fill="#1e1e1e"/>
<text x="7.3" y="199.7" font-size="11" fill="#111" font-weight="bold">D</text>
<line x1="28.5" y1="199.6" x2="39.4" y2="199.6" stroke="#17a837" stroke-width="1.1"/>
<circle cx="33.95" cy="199.6" r="1.9" fill="#17a837"/>
<text x="43.8" y="202.2" font-size="7.4" textLength="35" lengthAdjust="spacingAndGlyphs">Isatuximab</text>
<line x1="28.5" y1="210.8" x2="39.4" y2="210.8" stroke="#c8102e" stroke-width="1.1"/>
<circle cx="33.95" cy="210.8" r="1.9" fill="#c8102e"/>
<text x="43.8" y="213.4" font-size="7.4" textLength="37.9" lengthAdjust="spacingAndGlyphs">SAR442085</text>
<line x1="28.5" y1="221.9" x2="39.4" y2="221.9" stroke="#0b4b8f" stroke-width="1.1"/>
<circle cx="33.95" cy="221.9" r="1.9" fill="#0b4b8f"/>
<text x="43.8" y="224.5" font-size="7.4" textLength="47" lengthAdjust="spacingAndGlyphs">Daratumumab</text>
<line x1="46.6" y1="334.8" x2="46.6" y2="240.2" stroke="#444444" stroke-width="1.3"/>
<line x1="43.4" y1="334.2" x2="46.6" y2="334.2" stroke="#444444" stroke-width="1.1"/>
<text x="40.8" y="337.2" font-size="8.6" text-anchor="end">0</text>
<line x1="43.4" y1="310.75" x2="46.6" y2="310.75" stroke="#444444" stroke-width="1.1"/>
<text x="40.8" y="313.75" font-size="8.6" text-anchor="end" textLength="8.8" lengthAdjust="spacingAndGlyphs">20</text>
<line x1="43.4" y1="287.3" x2="46.6" y2="287.3" stroke="#444444" stroke-width="1.1"/>
<text x="40.8" y="290.3" font-size="8.6" text-anchor="end" textLength="8.8" lengthAdjust="spacingAndGlyphs">40</text>
<line x1="43.4" y1="263.85" x2="46.6" y2="263.85" stroke="#444444" stroke-width="1.1"/>
<text x="40.8" y="266.85" font-size="8.6" text-anchor="end" textLength="8.8" lengthAdjust="spacingAndGlyphs">60</text>
<line x1="43.4" y1="240.4" x2="46.6" y2="240.4" stroke="#444444" stroke-width="1.1"/>
<text x="40.8" y="243.4" font-size="8.6" text-anchor="end" textLength="8.8" lengthAdjust="spacingAndGlyphs">80</text>
<line x1="45.95" y1="334.2" x2="96.5" y2="334.2" stroke="#444444" stroke-width="1.3"/>
<line x1="56.7" y1="334.2" x2="56.7" y2="337.2" stroke="#444444" stroke-width="1.1"/>
<line x1="71.9" y1="334.2" x2="71.9" y2="337.2" stroke="#444444" stroke-width="1.1"/>
<line x1="86.8" y1="334.2" x2="86.8" y2="337.2" stroke="#444444" stroke-width="1.1"/>
<text x="25.7" y="287.1" font-size="9.5" text-anchor="middle" textLength="69.2" lengthAdjust="spacingAndGlyphs" transform="rotate(-90 25.7 287.1)">CD69+ at 70 pM (%)</text>
<circle cx="56.7" cy="266" r="1.9" fill="#0b4b8f"/>
<circle cx="56.7" cy="281" r="1.9" fill="#0b4b8f"/>
<circle cx="56.7" cy="287.3" r="1.9" fill="#0b4b8f"/>
<circle cx="53.8" cy="305.3" r="1.9" fill="#0b4b8f"/>
<circle cx="59.4" cy="305.3" r="1.9" fill="#0b4b8f"/>
<circle cx="55.4" cy="308.4" r="1.9" fill="#0b4b8f"/>
<circle cx="57" cy="308.8" r="1.9" fill="#0b4b8f"/>
<circle cx="58.3" cy="310" r="1.9" fill="#0b4b8f"/>
<circle cx="59.2" cy="321.5" r="1.9" fill="#0b4b8f"/>
<circle cx="54.3" cy="326.2" r="1.9" fill="#0b4b8f"/>
<line x1="51.9" y1="301.3" x2="61.5" y2="301.3" stroke="#333" stroke-width="1"/>
<line x1="56.7" y1="294.6" x2="56.7" y2="307.2" stroke="#333" stroke-width="1"/>
<line x1="54.1" y1="294.6" x2="59.3" y2="294.6" stroke="#333" stroke-width="1"/>
<line x1="54.1" y1="307.2" x2="59.3" y2="307.2" stroke="#333" stroke-width="1"/>
<circle cx="69.2" cy="254.9" r="1.9" fill="#c8102e"/>
<circle cx="71.9" cy="254.2" r="1.9" fill="#c8102e"/>
<circle cx="74.3" cy="261.9" r="1.9" fill="#c8102e"/>
<circle cx="74.3" cy="268.7" r="1.9" fill="#c8102e"/>
<circle cx="69.5" cy="271.3" r="1.9" fill="#c8102e"/>
<circle cx="71.7" cy="282.4" r="1.9" fill="#c8102e"/>
<circle cx="70.2" cy="288.8" r="1.9" fill="#c8102e"/>
<circle cx="73.4" cy="292.5" r="1.9" fill="#c8102e"/>
<circle cx="71.9" cy="294.2" r="1.9" fill="#c8102e"/>
<line x1="66.9" y1="274.4" x2="76.9" y2="274.4" stroke="#333" stroke-width="1"/>
<line x1="71.9" y1="269.1" x2="71.9" y2="279.4" stroke="#333" stroke-width="1"/>
<line x1="69.3" y1="269.1" x2="74.5" y2="269.1" stroke="#333" stroke-width="1"/>
<line x1="69.3" y1="279.4" x2="74.5" y2="279.4" stroke="#333" stroke-width="1"/>
<circle cx="86.6" cy="264" r="1.9" fill="#17a837"/>
<circle cx="84.2" cy="281.9" r="1.9" fill="#17a837"/>
<circle cx="89.2" cy="287.1" r="1.9" fill="#17a837"/>
<circle cx="84.2" cy="300" r="1.9" fill="#17a837"/>
<circle cx="89.2" cy="298.3" r="1.9" fill="#17a837"/>
<circle cx="89" cy="303.6" r="1.9" fill="#17a837"/>
<circle cx="84.4" cy="305.5" r="1.9" fill="#17a837"/>
<circle cx="86.8" cy="308.4" r="1.9" fill="#17a837"/>
<circle cx="86.8" cy="314.6" r="1.9" fill="#17a837"/>
<line x1="81.9" y1="295.9" x2="91.9" y2="295.9" stroke="#333" stroke-width="1"/>
<line x1="86.9" y1="290.4" x2="86.9" y2="301" stroke="#333" stroke-width="1"/>
<line x1="84.3" y1="290.4" x2="89.5" y2="290.4" stroke="#333" stroke-width="1"/>
<line x1="84.3" y1="301" x2="89.5" y2="301" stroke="#333" stroke-width="1"/>
<path d="M54.1,245.7 Q54.1,244.1 55.3,244.1 L69,244.1 Q70.2,244.1 70.2,245.7" fill="none" stroke="#222" stroke-width="1"/>
<path d="M72.2,245.7 Q72.2,244.1 73.4,244.1 L86.6,244.1 Q87.8,244.1 87.8,245.7" fill="none" stroke="#222" stroke-width="1"/>
<polygon points="60.62,238.1 61.05,239.12 62.15,239.21 61.31,239.92 61.57,240.99 60.62,240.42 59.68,240.99 59.94,239.92 59.1,239.21 60.2,239.12" fill="#1e1e1e"/>
<polygon points="63.98,238.1 64.4,239.12 65.5,239.21 64.66,239.92 64.92,240.99 63.98,240.42 63.03,240.99 63.29,239.92 62.45,239.21 63.55,239.12" fill="#1e1e1e"/>
<polygon points="79.8,238.1 80.22,239.12 81.32,239.21 80.48,239.92 80.74,240.99 79.8,240.42 78.86,240.99 79.12,239.92 78.28,239.21 79.38,239.12" fill="#1e1e1e"/>
<text x="129.8" y="199.8" font-size="11" fill="#111" font-weight="bold">E</text>
<line x1="158.7" y1="199.6" x2="170.2" y2="199.6" stroke="#17a837" stroke-width="1.1"/>
<circle cx="164.45" cy="199.6" r="1.9" fill="#17a837"/>
<text x="174" y="202.2" font-size="7.4" textLength="35" lengthAdjust="spacingAndGlyphs">Isatuximab</text>
<line x1="158.7" y1="210.8" x2="170.2" y2="210.8" stroke="#c8102e" stroke-width="1.1"/>
<circle cx="164.45" cy="210.8" r="1.9" fill="#c8102e"/>
<text x="174" y="213.4" font-size="7.4" textLength="37.9" lengthAdjust="spacingAndGlyphs">SAR442085</text>
<line x1="158.7" y1="221.9" x2="170.2" y2="221.9" stroke="#0b4b8f" stroke-width="1.1"/>
<circle cx="164.45" cy="221.9" r="1.9" fill="#0b4b8f"/>
<text x="174" y="224.5" font-size="7.4" textLength="47.2" lengthAdjust="spacingAndGlyphs">Daratumumab</text>
<line x1="159.2" y1="334.8" x2="159.2" y2="238.4" stroke="#444444" stroke-width="1.3"/>
<line x1="156" y1="334.2" x2="159.2" y2="334.2" stroke="#444444" stroke-width="1.1"/>
<text x="152.9" y="337.2" font-size="8.6" text-anchor="end">0</text>
<line x1="156" y1="302.3" x2="159.2" y2="302.3" stroke="#444444" stroke-width="1.1"/>
<text x="152.9" y="305.3" font-size="8.6" text-anchor="end" textLength="8.8" lengthAdjust="spacingAndGlyphs">20</text>
<line x1="156" y1="270.4" x2="159.2" y2="270.4" stroke="#444444" stroke-width="1.1"/>
<text x="152.9" y="273.4" font-size="8.6" text-anchor="end" textLength="8.8" lengthAdjust="spacingAndGlyphs">40</text>
<line x1="156" y1="238.5" x2="159.2" y2="238.5" stroke="#444444" stroke-width="1.1"/>
<text x="152.9" y="241.5" font-size="8.6" text-anchor="end" textLength="8.8" lengthAdjust="spacingAndGlyphs">60</text>
<line x1="158.55" y1="334.2" x2="212.2" y2="334.2" stroke="#444444" stroke-width="1.3"/>
<line x1="164.5" y1="334.2" x2="164.5" y2="336.6" stroke="#444444" stroke-width="1.1"/>
<line x1="175" y1="334.2" x2="175" y2="336.6" stroke="#444444" stroke-width="1.1"/>
<line x1="185.7" y1="334.2" x2="185.7" y2="336.6" stroke="#444444" stroke-width="1.1"/>
<line x1="196.3" y1="334.2" x2="196.3" y2="336.6" stroke="#444444" stroke-width="1.1"/>
<line x1="206.5" y1="334.2" x2="206.5" y2="336.6" stroke="#444444" stroke-width="1.1"/>
<line x1="159.2" y1="313.4" x2="213" y2="313.4" stroke="#333" stroke-width="0.8" stroke-dasharray="1,1.2"/>
<g opacity="0.7">
<line x1="164.5" y1="305.49" x2="164.5" y2="300.7" stroke="#c8102e" stroke-width="1.45"/>
<line x1="162.6" y1="300.7" x2="166.4" y2="300.7" stroke="#c8102e" stroke-width="1"/>
</g>
<g opacity="0.7">
<line x1="175" y1="283.96" x2="175" y2="275.19" stroke="#c8102e" stroke-width="1.45"/>
<line x1="173.1" y1="275.19" x2="176.9" y2="275.19" stroke="#c8102e" stroke-width="1"/>
</g>
<g opacity="0.7">
<line x1="185.7" y1="272.79" x2="185.7" y2="264.82" stroke="#c8102e" stroke-width="1.45"/>
<line x1="183.8" y1="264.82" x2="187.6" y2="264.82" stroke="#c8102e" stroke-width="1"/>
</g>
<g opacity="0.7">
<line x1="196.3" y1="252.85" x2="196.3" y2="245.68" stroke="#c8102e" stroke-width="1.45"/>
<line x1="194.4" y1="245.68" x2="198.2" y2="245.68" stroke="#c8102e" stroke-width="1"/>
</g>
<g opacity="0.7">
<line x1="206.5" y1="253.65" x2="206.5" y2="245.68" stroke="#c8102e" stroke-width="1.45"/>
<line x1="204.6" y1="245.68" x2="208.4" y2="245.68" stroke="#c8102e" stroke-width="1"/>
</g>
<g opacity="0.7">
<line x1="175" y1="306.29" x2="175" y2="300.7" stroke="#0b4b8f" stroke-width="1.45"/>
<line x1="173.1" y1="300.7" x2="176.9" y2="300.7" stroke="#0b4b8f" stroke-width="1"/>
</g>
<g opacity="0.7">
<line x1="206.5" y1="266.41" x2="206.5" y2="260.83" stroke="#0b4b8f" stroke-width="1.45"/>
<line x1="204.6" y1="260.83" x2="208.4" y2="260.83" stroke="#0b4b8f" stroke-width="1"/>
</g>
<g opacity="0.7">
<line x1="164.5" y1="311.07" x2="164.5" y2="308.68" stroke="#17a837" stroke-width="1.45"/>
<line x1="162.6" y1="308.68" x2="166.4" y2="308.68" stroke="#17a837" stroke-width="1"/>
</g>
<g opacity="0.7">
<line x1="175" y1="303.89" x2="175" y2="298.31" stroke="#17a837" stroke-width="1.45"/>
<line x1="173.1" y1="298.31" x2="176.9" y2="298.31" stroke="#17a837" stroke-width="1"/>
</g>
<g opacity="0.7">
<line x1="185.7" y1="300.7" x2="185.7" y2="295.12" stroke="#17a837" stroke-width="1.45"/>
<line x1="183.8" y1="295.12" x2="187.6" y2="295.12" stroke="#17a837" stroke-width="1"/>
</g>
<g opacity="0.7">
<line x1="196.3" y1="281.56" x2="196.3" y2="275.19" stroke="#17a837" stroke-width="1.45"/>
<line x1="194.4" y1="275.19" x2="198.2" y2="275.19" stroke="#17a837" stroke-width="1"/>
</g>
<g opacity="0.7">
<line x1="206.5" y1="262.42" x2="206.5" y2="256.84" stroke="#17a837" stroke-width="1.45"/>
<line x1="204.6" y1="256.84" x2="208.4" y2="256.84" stroke="#17a837" stroke-width="1"/>
</g>
<polyline points="164.5,313.46 175,306.29 185.7,300.7 196.3,289.54 206.5,266.41" fill="none" stroke="#0b4b8f" stroke-width="1.5" stroke-linejoin="round"/>
<circle cx="164.5" cy="313.46" r="1.95" fill="#0b4b8f"/>
<circle cx="175" cy="306.29" r="1.95" fill="#0b4b8f"/>
<circle cx="185.7" cy="300.7" r="1.95" fill="#0b4b8f"/>
<circle cx="196.3" cy="289.54" r="1.95" fill="#0b4b8f"/>
<circle cx="206.5" cy="266.41" r="1.95" fill="#0b4b8f"/>
<polyline points="164.5,311.07 175,303.89 185.7,300.7 196.3,281.56 206.5,262.42" fill="none" stroke="#17a837" stroke-width="1.5" stroke-linejoin="round"/>
<circle cx="164.5" cy="311.07" r="1.95" fill="#17a837"/>
<circle cx="175" cy="303.89" r="1.95" fill="#17a837"/>
<circle cx="185.7" cy="300.7" r="1.95" fill="#17a837"/>
<circle cx="196.3" cy="281.56" r="1.95" fill="#17a837"/>
<circle cx="206.5" cy="262.42" r="1.95" fill="#17a837"/>
<polyline points="164.5,305.49 175,283.96 185.7,272.79 196.3,252.85 206.5,253.65" fill="none" stroke="#c8102e" stroke-width="1.5" stroke-linejoin="round"/>
<circle cx="164.5" cy="305.49" r="1.95" fill="#c8102e"/>
<circle cx="175" cy="283.96" r="1.95" fill="#c8102e"/>
<circle cx="185.7" cy="272.79" r="1.95" fill="#c8102e"/>
<circle cx="196.3" cy="252.85" r="1.95" fill="#c8102e"/>
<circle cx="206.5" cy="253.65" r="1.95" fill="#c8102e"/>
<polygon points="185.7,260.6 186.12,261.62 187.22,261.71 186.38,262.42 186.64,263.49 185.7,262.92 184.76,263.49 185.02,262.42 184.18,261.71 185.28,261.62" fill="#1e1e1e"/>
<polygon points="196.3,241.1 196.72,242.12 197.82,242.21 196.98,242.92 197.24,243.99 196.3,243.42 195.36,243.99 195.62,242.92 194.78,242.21 195.88,242.12" fill="#1e1e1e"/>
<text x="138.3" y="286.5" font-size="9.5" text-anchor="middle" textLength="51.9" lengthAdjust="spacingAndGlyphs" transform="rotate(-90 138.3 286.5)">CD69+ NKs (%)</text>
<text x="168.8" y="343.2" font-size="8.4" text-anchor="end" textLength="15.5" lengthAdjust="spacingAndGlyphs" transform="rotate(-45 168.8 343.2)">0.07</text>
<text x="179.3" y="343.2" font-size="8.4" text-anchor="end" textLength="11.3" lengthAdjust="spacingAndGlyphs" transform="rotate(-45 179.3 343.2)">0.7</text>
<text x="190" y="343.2" font-size="8.4" text-anchor="end" transform="rotate(-45 190 343.2)">7</text>
<text x="200.6" y="343.2" font-size="8.4" text-anchor="end" textLength="8.5" lengthAdjust="spacingAndGlyphs" transform="rotate(-45 200.6 343.2)">70</text>
<text x="210.8" y="343.2" font-size="8.4" text-anchor="end" textLength="13" lengthAdjust="spacingAndGlyphs" transform="rotate(-45 210.8 343.2)">700</text>
<text x="185.6" y="366" font-size="9.3" text-anchor="middle" textLength="45.7" lengthAdjust="spacingAndGlyphs">Ab conc. [pM]</text>
<text x="252.7" y="199.8" font-size="11" fill="#111" font-weight="bold">F</text>
<line x1="291.2" y1="203.5" x2="302.3" y2="203.5" stroke="#17a837" stroke-width="1.1"/>
<circle cx="296.75" cy="203.5" r="1.9" fill="#17a837"/>
<text x="306.5" y="206.1" font-size="7.4" textLength="35" lengthAdjust="spacingAndGlyphs">Isatuximab</text>
<line x1="291.2" y1="214.8" x2="302.3" y2="214.8" stroke="#c8102e" stroke-width="1.1"/>
<circle cx="296.75" cy="214.8" r="1.9" fill="#c8102e"/>
<text x="306.5" y="217.4" font-size="7.4" textLength="37.9" lengthAdjust="spacingAndGlyphs">SAR442085</text>
<line x1="291.2" y1="226" x2="302.3" y2="226" stroke="#0b4b8f" stroke-width="1.1"/>
<circle cx="296.75" cy="226" r="1.9" fill="#0b4b8f"/>
<text x="306.5" y="228.6" font-size="7.4" textLength="47.2" lengthAdjust="spacingAndGlyphs">Daratumumab</text>
<line x1="287" y1="334.8" x2="287" y2="238.7" stroke="#444444" stroke-width="1.3"/>
<line x1="283.8" y1="334.2" x2="287" y2="334.2" stroke="#444444" stroke-width="1.1"/>
<text x="280.8" y="337.2" font-size="8.6" text-anchor="end">0</text>
<line x1="283.8" y1="310.4" x2="287" y2="310.4" stroke="#444444" stroke-width="1.1"/>
<text x="280.8" y="313.4" font-size="8.6" text-anchor="end">5</text>
<line x1="283.8" y1="286.6" x2="287" y2="286.6" stroke="#444444" stroke-width="1.1"/>
<text x="280.8" y="289.6" font-size="8.6" text-anchor="end" textLength="8.8" lengthAdjust="spacingAndGlyphs">10</text>
<line x1="283.8" y1="262.8" x2="287" y2="262.8" stroke="#444444" stroke-width="1.1"/>
<text x="280.8" y="265.8" font-size="8.6" text-anchor="end" textLength="8.8" lengthAdjust="spacingAndGlyphs">15</text>
<line x1="283.8" y1="239" x2="287" y2="239" stroke="#444444" stroke-width="1.1"/>
<text x="280.8" y="242" font-size="8.6" text-anchor="end" textLength="8.8" lengthAdjust="spacingAndGlyphs">20</text>
<line x1="286.35" y1="334.2" x2="339.8" y2="334.2" stroke="#444444" stroke-width="1.3"/>
<line x1="295.7" y1="334.2" x2="295.7" y2="336.6" stroke="#444444" stroke-width="1.1"/>
<line x1="313.5" y1="334.2" x2="313.5" y2="336.6" stroke="#444444" stroke-width="1.1"/>
<line x1="330.8" y1="334.2" x2="330.8" y2="336.6" stroke="#444444" stroke-width="1.1"/>
<g opacity="0.7">
<line x1="313.5" y1="306.12" x2="313.5" y2="297.55" stroke="#c8102e" stroke-width="1.45"/>
<line x1="311.6" y1="297.55" x2="315.4" y2="297.55" stroke="#c8102e" stroke-width="1"/>
</g>
<g opacity="0.7">
<line x1="330.8" y1="267.56" x2="330.8" y2="250.42" stroke="#c8102e" stroke-width="1.45"/>
<line x1="328.9" y1="250.42" x2="332.7" y2="250.42" stroke="#c8102e" stroke-width="1"/>
</g>
<g opacity="0.7">
<line x1="295.7" y1="325.63" x2="295.7" y2="323.25" stroke="#c8102e" stroke-width="1.45"/>
<line x1="293.8" y1="323.25" x2="297.6" y2="323.25" stroke="#c8102e" stroke-width="1"/>
</g>
<g opacity="0.7">
<line x1="295.7" y1="324.68" x2="295.7" y2="322.78" stroke="#17a837" stroke-width="1.45"/>
<line x1="293.8" y1="322.78" x2="297.6" y2="322.78" stroke="#17a837" stroke-width="1"/>
</g>
<g opacity="0.7">
<line x1="330.8" y1="316.59" x2="330.8" y2="312.3" stroke="#17a837" stroke-width="1.45"/>
<line x1="328.9" y1="312.3" x2="332.7" y2="312.3" stroke="#17a837" stroke-width="1"/>
</g>
<g opacity="0.7">
<line x1="330.8" y1="316.59" x2="330.8" y2="319.92" stroke="#17a837" stroke-width="1.45"/>
<line x1="328.9" y1="319.92" x2="332.7" y2="319.92" stroke="#17a837" stroke-width="1"/>
</g>
<g opacity="0.7">
<line x1="313.5" y1="324.68" x2="313.5" y2="322.78" stroke="#0b4b8f" stroke-width="1.45"/>
<line x1="311.6" y1="322.78" x2="315.4" y2="322.78" stroke="#0b4b8f" stroke-width="1"/>
</g>
<polyline points="295.7,324.68 313.5,330.39 330.8,316.59" fill="none" stroke="#17a837" stroke-width="1.5" stroke-linejoin="round"/>
<circle cx="295.7" cy="324.68" r="1.95" fill="#17a837"/>
<circle cx="313.5" cy="330.39" r="1.95" fill="#17a837"/>
<circle cx="330.8" cy="316.59" r="1.95" fill="#17a837"/>
<polyline points="295.7,329.44 313.5,324.68 330.8,315.64" fill="none" stroke="#0b4b8f" stroke-width="1.5" stroke-linejoin="round"/>
<circle cx="295.7" cy="329.44" r="1.95" fill="#0b4b8f"/>
<circle cx="313.5" cy="324.68" r="1.95" fill="#0b4b8f"/>
<circle cx="330.8" cy="315.64" r="1.95" fill="#0b4b8f"/>
<polyline points="295.7,325.63 313.5,306.12 330.8,267.56" fill="none" stroke="#c8102e" stroke-width="1.5" stroke-linejoin="round"/>
<circle cx="295.7" cy="325.63" r="1.95" fill="#c8102e"/>
<circle cx="313.5" cy="306.12" r="1.95" fill="#c8102e"/>
<circle cx="330.8" cy="267.56" r="1.95" fill="#c8102e"/>
<polygon points="327.45,245 327.87,246.02 328.97,246.11 328.13,246.82 328.39,247.89 327.45,247.32 326.51,247.89 326.77,246.82 325.93,246.11 327.03,246.02" fill="#1e1e1e"/>
<polygon points="330.8,245 331.22,246.02 332.32,246.11 331.48,246.82 331.74,247.89 330.8,247.32 329.86,247.89 330.12,246.82 329.28,246.11 330.38,246.02" fill="#1e1e1e"/>
<polygon points="334.15,245 334.57,246.02 335.67,246.11 334.83,246.82 335.09,247.89 334.15,247.32 333.21,247.89 333.47,246.82 332.63,246.11 333.73,246.02" fill="#1e1e1e"/>
<text x="265.3" y="285.2" font-size="9.5" text-anchor="middle" textLength="44.6" lengthAdjust="spacingAndGlyphs" transform="rotate(-90 265.3 285.2)">IFN-&#947; (pg/ml)</text>
<text x="295.7" y="345.8" font-size="8.4" text-anchor="middle" textLength="10.3" lengthAdjust="spacingAndGlyphs">0.7</text>
<text x="313.5" y="345.8" font-size="8.4" text-anchor="middle">7</text>
<text x="330.8" y="345.8" font-size="8.4" text-anchor="middle" textLength="7.6" lengthAdjust="spacingAndGlyphs">70</text>
<line x1="387.4" y1="334.8" x2="387.4" y2="238.7" stroke="#444444" stroke-width="1.3"/>
<line x1="384.2" y1="334.2" x2="387.4" y2="334.2" stroke="#444444" stroke-width="1.1"/>
<text x="382.2" y="337.2" font-size="8.6" text-anchor="end">0</text>
<line x1="384.2" y1="310.4" x2="387.4" y2="310.4" stroke="#444444" stroke-width="1.1"/>
<text x="382.2" y="313.4" font-size="8.6" text-anchor="end" textLength="8.8" lengthAdjust="spacingAndGlyphs">50</text>
<line x1="384.2" y1="286.6" x2="387.4" y2="286.6" stroke="#444444" stroke-width="1.1"/>
<text x="382.2" y="289.6" font-size="8.6" text-anchor="end" textLength="13" lengthAdjust="spacingAndGlyphs">100</text>
<line x1="384.2" y1="262.8" x2="387.4" y2="262.8" stroke="#444444" stroke-width="1.1"/>
<text x="382.2" y="265.8" font-size="8.6" text-anchor="end" textLength="13" lengthAdjust="spacingAndGlyphs">150</text>
<line x1="384.2" y1="239" x2="387.4" y2="239" stroke="#444444" stroke-width="1.1"/>
<text x="382.2" y="242" font-size="8.6" text-anchor="end" textLength="13" lengthAdjust="spacingAndGlyphs">200</text>
<line x1="386.75" y1="334.2" x2="440.6" y2="334.2" stroke="#444444" stroke-width="1.3"/>
<line x1="396.6" y1="334.2" x2="396.6" y2="336.6" stroke="#444444" stroke-width="1.1"/>
<line x1="414.2" y1="334.2" x2="414.2" y2="336.6" stroke="#444444" stroke-width="1.1"/>
<line x1="431.5" y1="334.2" x2="431.5" y2="336.6" stroke="#444444" stroke-width="1.1"/>
<g opacity="0.7">
<line x1="396.6" y1="310.4" x2="396.6" y2="304.69" stroke="#c8102e" stroke-width="1.45"/>
<line x1="394.7" y1="304.69" x2="398.5" y2="304.69" stroke="#c8102e" stroke-width="1"/>
</g>
<g opacity="0.7">
<line x1="414.2" y1="293.74" x2="414.2" y2="286.6" stroke="#c8102e" stroke-width="1.45"/>
<line x1="412.3" y1="286.6" x2="416.1" y2="286.6" stroke="#c8102e" stroke-width="1"/>
</g>
<g opacity="0.7">
<line x1="431.5" y1="264.7" x2="431.5" y2="252.33" stroke="#c8102e" stroke-width="1.45"/>
<line x1="429.6" y1="252.33" x2="433.4" y2="252.33" stroke="#c8102e" stroke-width="1"/>
</g>
<g opacity="0.7">
<line x1="396.6" y1="325.63" x2="396.6" y2="320.4" stroke="#17a837" stroke-width="1.45"/>
<line x1="394.7" y1="320.4" x2="398.5" y2="320.4" stroke="#17a837" stroke-width="1"/>
</g>
<g opacity="0.7">
<line x1="414.2" y1="323.25" x2="414.2" y2="319.44" stroke="#17a837" stroke-width="1.45"/>
<line x1="412.3" y1="319.44" x2="416.1" y2="319.44" stroke="#17a837" stroke-width="1"/>
</g>
<g opacity="0.7">
<line x1="431.5" y1="296.12" x2="431.5" y2="286.12" stroke="#17a837" stroke-width="1.45"/>
<line x1="429.6" y1="286.12" x2="433.4" y2="286.12" stroke="#17a837" stroke-width="1"/>
</g>
<g opacity="0.7">
<line x1="396.6" y1="327.06" x2="396.6" y2="322.78" stroke="#0b4b8f" stroke-width="1.45"/>
<line x1="394.7" y1="322.78" x2="398.5" y2="322.78" stroke="#0b4b8f" stroke-width="1"/>
</g>
<g opacity="0.7">
<line x1="414.2" y1="322.3" x2="414.2" y2="318.49" stroke="#0b4b8f" stroke-width="1.45"/>
<line x1="412.3" y1="318.49" x2="416.1" y2="318.49" stroke="#0b4b8f" stroke-width="1"/>
</g>
<g opacity="0.7">
<line x1="431.5" y1="298.5" x2="431.5" y2="288.98" stroke="#0b4b8f" stroke-width="1.45"/>
<line x1="429.6" y1="288.98" x2="433.4" y2="288.98" stroke="#0b4b8f" stroke-width="1"/>
</g>
<polyline points="396.6,327.06 414.2,322.3 431.5,298.5" fill="none" stroke="#0b4b8f" stroke-width="1.5" stroke-linejoin="round"/>
<circle cx="396.6" cy="327.06" r="1.95" fill="#0b4b8f"/>
<circle cx="414.2" cy="322.3" r="1.95" fill="#0b4b8f"/>
<circle cx="431.5" cy="298.5" r="1.95" fill="#0b4b8f"/>
<polyline points="396.6,325.63 414.2,323.25 431.5,296.12" fill="none" stroke="#17a837" stroke-width="1.5" stroke-linejoin="round"/>
<circle cx="396.6" cy="325.63" r="1.95" fill="#17a837"/>
<circle cx="414.2" cy="323.25" r="1.95" fill="#17a837"/>
<circle cx="431.5" cy="296.12" r="1.95" fill="#17a837"/>
<polyline points="396.6,310.4 414.2,293.74 431.5,264.7" fill="none" stroke="#c8102e" stroke-width="1.5" stroke-linejoin="round"/>
<circle cx="396.6" cy="310.4" r="1.95" fill="#c8102e"/>
<circle cx="414.2" cy="293.74" r="1.95" fill="#c8102e"/>
<circle cx="431.5" cy="264.7" r="1.95" fill="#c8102e"/>
<polygon points="414.2,281.4 414.62,282.42 415.72,282.51 414.88,283.22 415.14,284.29 414.2,283.72 413.26,284.29 413.52,283.22 412.68,282.51 413.78,282.42" fill="#1e1e1e"/>
<polygon points="429.82,246.8 430.25,247.82 431.35,247.91 430.51,248.62 430.77,249.69 429.82,249.12 428.88,249.69 429.14,248.62 428.3,247.91 429.4,247.82" fill="#1e1e1e"/>
<polygon points="433.18,246.8 433.6,247.82 434.7,247.91 433.86,248.62 434.12,249.69 433.18,249.12 432.23,249.69 432.49,248.62 431.65,247.91 432.75,247.82" fill="#1e1e1e"/>
<text x="361.9" y="287.2" font-size="9.5" text-anchor="middle" textLength="51.9" lengthAdjust="spacingAndGlyphs" transform="rotate(-90 361.9 287.2)">MIP1-&#945; (pg/ml)</text>
<text x="396.6" y="345.8" font-size="8.4" text-anchor="middle" textLength="10.3" lengthAdjust="spacingAndGlyphs">0.7</text>
<text x="414.2" y="345.8" font-size="8.4" text-anchor="middle">7</text>
<text x="431.5" y="345.8" font-size="8.4" text-anchor="middle" textLength="7.6" lengthAdjust="spacingAndGlyphs">70</text>
<text x="355.2" y="360.4" font-size="9.3" text-anchor="middle" textLength="45.7" lengthAdjust="spacingAndGlyphs">Ab conc. [pM]</text>
<text x="7.4" y="398.6" font-size="11" fill="#111" font-weight="bold">G</text>
<text x="81.7" y="401.6" font-size="8.8" text-anchor="middle" textLength="30.5" lengthAdjust="spacingAndGlyphs">Isotype</text>
<line x1="39.7" y1="413.5" x2="42.5" y2="413.5" stroke="#222" stroke-width="0.9"/>
<line x1="39.7" y1="430" x2="42.5" y2="430" stroke="#222" stroke-width="0.9"/>
<line x1="39.7" y1="449.6" x2="42.5" y2="449.6" stroke="#222" stroke-width="0.9"/>
<line x1="39.7" y1="461" x2="42.5" y2="461" stroke="#222" stroke-width="0.9"/>
<line x1="39.7" y1="471.8" x2="42.5" y2="471.8" stroke="#222" stroke-width="0.9"/>
<line x1="41" y1="418.5" x2="42.5" y2="418.5" stroke="#333" stroke-width="0.7"/>
<line x1="41" y1="421.4" x2="42.5" y2="421.4" stroke="#333" stroke-width="0.7"/>
<line x1="41" y1="424" x2="42.5" y2="424" stroke="#333" stroke-width="0.7"/>
<line x1="41" y1="435.3" x2="42.5" y2="435.3" stroke="#333" stroke-width="0.7"/>
<line x1="41" y1="440.2" x2="42.5" y2="440.2" stroke="#333" stroke-width="0.7"/>
<line x1="41" y1="444" x2="42.5" y2="444" stroke="#333" stroke-width="0.7"/>
<line x1="41" y1="446.5" x2="42.5" y2="446.5" stroke="#333" stroke-width="0.7"/>
<line x1="41" y1="455" x2="42.5" y2="455" stroke="#333" stroke-width="0.7"/>
<line x1="41" y1="466.5" x2="42.5" y2="466.5" stroke="#333" stroke-width="0.7"/>
<line x1="41" y1="477" x2="42.5" y2="477" stroke="#333" stroke-width="0.7"/>
<rect x="39.9" y="459.9" width="2" height="2.2" fill="#111"/>
<text x="34.9" y="416.5" font-size="7.6" text-anchor="end" textLength="8.4" lengthAdjust="spacingAndGlyphs">10</text>
<text x="35.1" y="413.2" font-size="5.6">5</text>
<text x="34.9" y="433" font-size="7.6" text-anchor="end" textLength="8.4" lengthAdjust="spacingAndGlyphs">10</text>
<text x="35.1" y="429.7" font-size="5.6">4</text>
<text x="34.9" y="452.6" font-size="7.6" text-anchor="end" textLength="8.4" lengthAdjust="spacingAndGlyphs">10</text>
<text x="35.1" y="449.3" font-size="5.6">3</text>
<text x="36.5" y="463.8" font-size="7.6" text-anchor="end">0</text>
<text x="35.1" y="474.7" font-size="7.6" text-anchor="end" textLength="14" lengthAdjust="spacingAndGlyphs">&#8722;10</text>
<text x="35.3" y="471.5" font-size="5.6">3</text>
<line x1="49.8" y1="484.2" x2="49.8" y2="487" stroke="#222" stroke-width="0.9"/>
<line x1="61.5" y1="484.2" x2="61.5" y2="487" stroke="#222" stroke-width="0.9"/>
<line x1="74.5" y1="484.2" x2="74.5" y2="487" stroke="#222" stroke-width="0.9"/>
<line x1="94.8" y1="484.2" x2="94.8" y2="487" stroke="#222" stroke-width="0.9"/>
<line x1="113.7" y1="484.2" x2="113.7" y2="487" stroke="#222" stroke-width="0.9"/>
<line x1="47.4" y1="484.2" x2="47.4" y2="485.8" stroke="#333" stroke-width="0.7"/>
<line x1="52.3" y1="484.2" x2="52.3" y2="485.8" stroke="#333" stroke-width="0.7"/>
<line x1="55.6" y1="484.2" x2="55.6" y2="485.8" stroke="#333" stroke-width="0.7"/>
<line x1="63.8" y1="484.2" x2="63.8" y2="485.8" stroke="#333" stroke-width="0.7"/>
<line x1="67" y1="484.2" x2="67" y2="485.8" stroke="#333" stroke-width="0.7"/>
<line x1="72.8" y1="484.2" x2="72.8" y2="485.8" stroke="#333" stroke-width="0.7"/>
<line x1="78.5" y1="484.2" x2="78.5" y2="485.8" stroke="#333" stroke-width="0.7"/>
<line x1="82.6" y1="484.2" x2="82.6" y2="485.8" stroke="#333" stroke-width="0.7"/>
<line x1="87.5" y1="484.2" x2="87.5" y2="485.8" stroke="#333" stroke-width="0.7"/>
<line x1="90.8" y1="484.2" x2="90.8" y2="485.8" stroke="#333" stroke-width="0.7"/>
<line x1="99" y1="484.2" x2="99" y2="485.8" stroke="#333" stroke-width="0.7"/>
<line x1="103" y1="484.2" x2="103" y2="485.8" stroke="#333" stroke-width="0.7"/>
<line x1="107.2" y1="484.2" x2="107.2" y2="485.8" stroke="#333" stroke-width="0.7"/>
<line x1="117" y1="484.2" x2="117" y2="485.8" stroke="#333" stroke-width="0.7"/>
<rect x="59.1" y="484.4" width="2.2" height="2" fill="#111"/>
<text x="53.8" y="495.8" font-size="7.6" text-anchor="end" textLength="13.3" lengthAdjust="spacingAndGlyphs">&#8722;10</text>
<text x="54" y="492.5" font-size="5.6">3</text>
<text x="61.5" y="495.8" font-size="7.6" text-anchor="middle">0</text>
<text x="76.8" y="495.8" font-size="7.6" text-anchor="end" textLength="7.9" lengthAdjust="spacingAndGlyphs">10</text>
<text x="77" y="492.5" font-size="5.6">3</text>
<text x="98.1" y="495.8" font-size="7.6" text-anchor="end" textLength="7.9" lengthAdjust="spacingAndGlyphs">10</text>
<text x="98.3" y="492.5" font-size="5.6">4</text>
<text x="115.9" y="495.8" font-size="7.6" text-anchor="end" textLength="7.9" lengthAdjust="spacingAndGlyphs">10</text>
<text x="116.1" y="492.5" font-size="5.6">5</text>
<defs><radialGradient id="gi" cx="0.5" cy="0.42" r="0.55"><stop offset="0" stop-color="#f0f0f0"/><stop offset="0.1" stop-color="#6a6a6a"/><stop offset="0.22" stop-color="#3a3a3a"/><stop offset="0.6" stop-color="#2c2c2c"/><stop offset="0.85" stop-color="#5a5a5a"/><stop offset="1" stop-color="#9a9a9a"/></radialGradient></defs>
<path d="M60.5,425.7 C62.3,425.7 64.48,426 66,426.8 C67.52,427.6 68.83,428.97 69.6,430.5 C70.37,432.03 70.67,434 70.6,436 C70.53,438 70.05,440.53 69.2,442.5 C68.35,444.47 66.95,446.62 65.5,447.8 C64.05,448.98 62.17,449.57 60.5,449.6 C58.83,449.63 56.92,449.02 55.5,448 C54.08,446.98 52.8,445.33 52,443.5 C51.2,441.67 50.73,439.12 50.7,437 C50.67,434.88 51.05,432.5 51.8,430.8 C52.55,429.1 53.75,427.65 55.2,426.8 C56.65,425.95 58.7,425.7 60.5,425.7 Z" fill="url(#gi)"/>
<path d="M60.5,425.7 C62.3,425.7 64.48,426 66,426.8 C67.52,427.6 68.83,428.97 69.6,430.5 C70.37,432.03 70.67,434 70.6,436 C70.53,438 70.05,440.53 69.2,442.5 C68.35,444.47 66.95,446.62 65.5,447.8 C64.05,448.98 62.17,449.57 60.5,449.6 C58.83,449.63 56.92,449.02 55.5,448 C54.08,446.98 52.8,445.33 52,443.5 C51.2,441.67 50.73,439.12 50.7,437 C50.67,434.88 51.05,432.5 51.8,430.8 C52.55,429.1 53.75,427.65 55.2,426.8 C56.65,425.95 58.7,425.7 60.5,425.7 Z" fill="none" stroke="#777" stroke-width="0.55"/>
<path d="M60.5,426.85 C62.07,426.85 63.98,427.12 65.3,427.82 C66.62,428.52 67.78,429.71 68.45,431.06 C69.12,432.41 69.39,434.13 69.34,435.89 C69.28,437.65 68.86,439.89 68.11,441.61 C67.37,443.34 66.13,445.22 64.86,446.25 C63.59,447.28 61.95,447.79 60.5,447.81 C59.04,447.84 57.37,447.31 56.14,446.42 C54.9,445.53 53.77,444.1 53.07,442.49 C52.36,440.88 51.95,438.63 51.92,436.77 C51.89,434.91 52.24,432.81 52.89,431.32 C53.55,429.83 54.6,428.56 55.87,427.82 C57.14,427.07 58.93,426.85 60.5,426.85 Z" fill="none" stroke="#555" stroke-width="0.55"/>
<path d="M60.5,428 C61.84,428 63.47,428.23 64.6,428.84 C65.73,429.44 66.72,430.46 67.3,431.62 C67.88,432.78 68.12,434.26 68.08,435.78 C68.03,437.3 67.66,439.24 67.02,440.73 C66.38,442.22 65.31,443.82 64.22,444.7 C63.14,445.58 61.74,446.01 60.5,446.03 C59.26,446.05 57.83,445.6 56.77,444.84 C55.71,444.08 54.74,442.86 54.14,441.48 C53.53,440.09 53.16,438.15 53.14,436.54 C53.11,434.94 53.42,433.12 53.99,431.84 C54.56,430.56 55.46,429.48 56.54,428.84 C57.63,428.19 59.15,427.99 60.5,428 Z" fill="none" stroke="#333" stroke-width="0.55"/>
<path d="M60.5,429.14 C61.61,429.14 62.96,429.35 63.9,429.85 C64.84,430.36 65.66,431.21 66.14,432.18 C66.63,433.15 66.85,434.39 66.81,435.67 C66.78,436.95 66.47,438.6 65.93,439.84 C65.4,441.09 64.49,442.41 63.59,443.15 C62.68,443.88 61.53,444.23 60.5,444.24 C59.47,444.26 58.29,443.89 57.41,443.26 C56.53,442.63 55.71,441.62 55.2,440.46 C54.69,439.31 54.38,437.67 54.36,436.31 C54.33,434.96 54.61,433.44 55.08,432.36 C55.56,431.28 56.31,430.39 57.22,429.85 C58.12,429.32 59.38,429.14 60.5,429.14 Z" fill="none" stroke="#222" stroke-width="0.55"/>
<path d="M60.49,430.29 C61.38,430.29 62.45,430.46 63.2,430.87 C63.95,431.28 64.6,431.96 64.99,432.74 C65.38,433.52 65.58,434.53 65.55,435.56 C65.53,436.6 65.28,437.95 64.85,438.96 C64.41,439.97 63.67,441.01 62.95,441.6 C62.22,442.18 61.31,442.45 60.5,442.46 C59.68,442.47 58.75,442.18 58.05,441.68 C57.34,441.18 56.68,440.39 56.27,439.45 C55.86,438.52 55.59,437.18 55.57,436.09 C55.56,434.99 55.79,433.75 56.18,432.88 C56.56,432.01 57.17,431.3 57.89,430.87 C58.61,430.44 59.61,430.29 60.49,430.29 Z" fill="none" stroke="#333" stroke-width="0.55"/>
<path d="M60.49,431.44 C61.15,431.44 61.94,431.58 62.5,431.89 C63.06,432.2 63.54,432.71 63.84,433.3 C64.14,433.9 64.3,434.66 64.29,435.45 C64.28,436.25 64.09,437.31 63.76,438.07 C63.43,438.84 62.86,439.61 62.31,440.05 C61.77,440.48 61.1,440.67 60.49,440.67 C59.89,440.68 59.21,440.47 58.68,440.1 C58.16,439.73 57.65,439.15 57.34,438.44 C57.02,437.73 56.8,436.7 56.79,435.86 C56.78,435.02 56.98,434.06 57.27,433.4 C57.57,432.74 58.02,432.21 58.56,431.89 C59.1,431.56 59.84,431.44 60.49,431.44 Z" fill="none" stroke="#444" stroke-width="0.55"/>
<path d="M60.49,432.59 C60.92,432.59 61.43,432.69 61.8,432.91 C62.17,433.12 62.48,433.46 62.69,433.86 C62.89,434.27 63.03,434.79 63.03,435.34 C63.03,435.9 62.89,436.66 62.67,437.19 C62.44,437.71 62.04,438.21 61.67,438.5 C61.31,438.78 60.89,438.89 60.49,438.89 C60.1,438.89 59.67,438.77 59.32,438.52 C58.97,438.28 58.63,437.91 58.41,437.43 C58.19,436.95 58.02,436.21 58.01,435.63 C58,435.04 58.16,434.37 58.37,433.92 C58.57,433.47 58.88,433.13 59.23,432.91 C59.59,432.68 60.06,432.58 60.49,432.59 Z" fill="none" stroke="#666" stroke-width="0.55"/>
<ellipse cx="60.6" cy="435.4" rx="1.0" ry="1.4" fill="#fff"/>
<circle cx="84" cy="433" r="0.4" fill="#ccc"/>
<circle cx="77" cy="427" r="0.4" fill="#ccc"/>
<circle cx="96" cy="437" r="0.4" fill="#ccc"/>
<circle cx="90" cy="441" r="0.4" fill="#ccc"/>
<circle cx="101" cy="430" r="0.4" fill="#ccc"/>
<rect x="71.1" y="423.7" width="48.8" height="29" fill="none" stroke="#6a6a6a" stroke-width="0.9"/>
<rect x="42.5" y="406.5" width="77.4" height="77.7" fill="none" stroke="#1a1a1a" stroke-width="1.2"/>
<text x="100.7" y="421.7" font-size="7.6" text-anchor="middle" textLength="18.6" lengthAdjust="spacingAndGlyphs">2.8 %</text>
<text x="182.6" y="401.6" font-size="8.8" text-anchor="middle" textLength="45.5" lengthAdjust="spacingAndGlyphs">Isatuximab</text>
<line x1="140.6" y1="413.5" x2="143.4" y2="413.5" stroke="#222" stroke-width="0.9"/>
<line x1="140.6" y1="430" x2="143.4" y2="430" stroke="#222" stroke-width="0.9"/>
<line x1="140.6" y1="449.6" x2="143.4" y2="449.6" stroke="#222" stroke-width="0.9"/>
<line x1="140.6" y1="461" x2="143.4" y2="461" stroke="#222" stroke-width="0.9"/>
<line x1="140.6" y1="471.8" x2="143.4" y2="471.8" stroke="#222" stroke-width="0.9"/>
<line x1="141.9" y1="418.5" x2="143.4" y2="418.5" stroke="#333" stroke-width="0.7"/>
<line x1="141.9" y1="421.4" x2="143.4" y2="421.4" stroke="#333" stroke-width="0.7"/>
<line x1="141.9" y1="424" x2="143.4" y2="424" stroke="#333" stroke-width="0.7"/>
<line x1="141.9" y1="435.3" x2="143.4" y2="435.3" stroke="#333" stroke-width="0.7"/>
<line x1="141.9" y1="440.2" x2="143.4" y2="440.2" stroke="#333" stroke-width="0.7"/>
<line x1="141.9" y1="444" x2="143.4" y2="444" stroke="#333" stroke-width="0.7"/>
<line x1="141.9" y1="446.5" x2="143.4" y2="446.5" stroke="#333" stroke-width="0.7"/>
<line x1="141.9" y1="455" x2="143.4" y2="455" stroke="#333" stroke-width="0.7"/>
<line x1="141.9" y1="466.5" x2="143.4" y2="466.5" stroke="#333" stroke-width="0.7"/>
<line x1="141.9" y1="477" x2="143.4" y2="477" stroke="#333" stroke-width="0.7"/>
<rect x="140.8" y="459.9" width="2" height="2.2" fill="#111"/>
<text x="135.8" y="416.5" font-size="7.6" text-anchor="end" textLength="8.4" lengthAdjust="spacingAndGlyphs">10</text>
<text x="136" y="413.2" font-size="5.6">5</text>
<text x="135.8" y="433" font-size="7.6" text-anchor="end" textLength="8.4" lengthAdjust="spacingAndGlyphs">10</text>
<text x="136" y="429.7" font-size="5.6">4</text>
<text x="135.8" y="452.6" font-size="7.6" text-anchor="end" textLength="8.4" lengthAdjust="spacingAndGlyphs">10</text>
<text x="136" y="449.3" font-size="5.6">3</text>
<text x="137.4" y="463.8" font-size="7.6" text-anchor="end">0</text>
<text x="136" y="474.7" font-size="7.6" text-anchor="end" textLength="14" lengthAdjust="spacingAndGlyphs">&#8722;10</text>
<text x="136.2" y="471.5" font-size="5.6">3</text>
<line x1="150.7" y1="484.2" x2="150.7" y2="487" stroke="#222" stroke-width="0.9"/>
<line x1="162.4" y1="484.2" x2="162.4" y2="487" stroke="#222" stroke-width="0.9"/>
<line x1="175.4" y1="484.2" x2="175.4" y2="487" stroke="#222" stroke-width="0.9"/>
<line x1="195.7" y1="484.2" x2="195.7" y2="487" stroke="#222" stroke-width="0.9"/>
<line x1="214.6" y1="484.2" x2="214.6" y2="487" stroke="#222" stroke-width="0.9"/>
<line x1="148.3" y1="484.2" x2="148.3" y2="485.8" stroke="#333" stroke-width="0.7"/>
<line x1="153.2" y1="484.2" x2="153.2" y2="485.8" stroke="#333" stroke-width="0.7"/>
<line x1="156.5" y1="484.2" x2="156.5" y2="485.8" stroke="#333" stroke-width="0.7"/>
<line x1="164.7" y1="484.2" x2="164.7" y2="485.8" stroke="#333" stroke-width="0.7"/>
<line x1="167.9" y1="484.2" x2="167.9" y2="485.8" stroke="#333" stroke-width="0.7"/>
<line x1="173.7" y1="484.2" x2="173.7" y2="485.8" stroke="#333" stroke-width="0.7"/>
<line x1="179.4" y1="484.2" x2="179.4" y2="485.8" stroke="#333" stroke-width="0.7"/>
<line x1="183.5" y1="484.2" x2="183.5" y2="485.8" stroke="#333" stroke-width="0.7"/>
<line x1="188.4" y1="484.2" x2="188.4" y2="485.8" stroke="#333" stroke-width="0.7"/>
<line x1="191.7" y1="484.2" x2="191.7" y2="485.8" stroke="#333" stroke-width="0.7"/>
<line x1="199.9" y1="484.2" x2="199.9" y2="485.8" stroke="#333" stroke-width="0.7"/>
<line x1="203.9" y1="484.2" x2="203.9" y2="485.8" stroke="#333" stroke-width="0.7"/>
<line x1="208.1" y1="484.2" x2="208.1" y2="485.8" stroke="#333" stroke-width="0.7"/>
<line x1="217.9" y1="484.2" x2="217.9" y2="485.8" stroke="#333" stroke-width="0.7"/>
<rect x="160" y="484.4" width="2.2" height="2" fill="#111"/>
<text x="154.7" y="495.8" font-size="7.6" text-anchor="end" textLength="13.3" lengthAdjust="spacingAndGlyphs">&#8722;10</text>
<text x="154.9" y="492.5" font-size="5.6">3</text>
<text x="162.4" y="495.8" font-size="7.6" text-anchor="middle">0</text>
<text x="177.7" y="495.8" font-size="7.6" text-anchor="end" textLength="7.9" lengthAdjust="spacingAndGlyphs">10</text>
<text x="177.9" y="492.5" font-size="5.6">3</text>
<text x="199" y="495.8" font-size="7.6" text-anchor="end" textLength="7.9" lengthAdjust="spacingAndGlyphs">10</text>
<text x="199.2" y="492.5" font-size="5.6">4</text>
<text x="216.8" y="495.8" font-size="7.6" text-anchor="end" textLength="7.9" lengthAdjust="spacingAndGlyphs">10</text>
<text x="217" y="492.5" font-size="5.6">5</text>
<path d="M169,427.3 C170.58,426.05 174.83,426.67 178,426.5 C181.17,426.33 184.83,426.17 188,426.3 C191.17,426.43 194.58,426.68 197,427.3 C199.42,427.92 201.42,428.72 202.5,430 C203.58,431.28 203.67,433.33 203.5,435 C203.33,436.67 202.92,438.58 201.5,440 C200.08,441.42 197.58,442.77 195,443.5 C192.42,444.23 189,444.4 186,444.4 C183,444.4 179.5,444.07 177,443.5 C174.5,442.93 172.42,442.58 171,441 C169.58,439.42 168.83,436.28 168.5,434 C168.17,431.72 167.42,428.55 169,427.3 Z" fill="#f4f4f4"/>
<path d="M169,427.3 C170.58,426.05 174.83,426.67 178,426.5 C181.17,426.33 184.83,426.17 188,426.3 C191.17,426.43 194.58,426.68 197,427.3 C199.42,427.92 201.42,428.72 202.5,430 C203.58,431.28 203.67,433.33 203.5,435 C203.33,436.67 202.92,438.58 201.5,440 C200.08,441.42 197.58,442.77 195,443.5 C192.42,444.23 189,444.4 186,444.4 C183,444.4 179.5,444.07 177,443.5 C174.5,442.93 172.42,442.58 171,441 C169.58,439.42 168.83,436.28 168.5,434 C168.17,431.72 167.42,428.55 169,427.3 Z" fill="none" stroke="#808080" stroke-width="0.55"/>
<path d="M171.59,428.28 C172.96,427.21 176.52,427.71 179.31,427.55 C182.09,427.39 185.48,427.22 188.3,427.33 C191.12,427.45 194.14,427.71 196.25,428.25 C198.36,428.79 200.04,429.48 200.97,430.58 C201.9,431.68 201.98,433.42 201.84,434.84 C201.7,436.26 201.34,437.89 200.12,439.11 C198.9,440.32 196.79,441.49 194.51,442.13 C192.24,442.77 189.15,442.94 186.47,442.94 C183.8,442.94 180.64,442.62 178.44,442.13 C176.24,441.63 174.48,441.32 173.26,439.96 C172.04,438.61 171.39,435.94 171.11,433.99 C170.83,432.04 170.22,429.36 171.59,428.28 Z" fill="none" stroke="#7a7a7a" stroke-width="0.55"/>
<path d="M174.18,429.26 C175.33,428.37 178.21,428.75 180.62,428.6 C183.02,428.45 186.12,428.27 188.6,428.37 C191.08,428.47 193.7,428.74 195.5,429.2 C197.31,429.67 198.66,430.24 199.44,431.16 C200.22,432.07 200.29,433.51 200.18,434.68 C200.06,435.86 199.77,437.21 198.75,438.22 C197.72,439.23 195.99,440.21 194.02,440.75 C192.05,441.3 189.31,441.49 186.95,441.49 C184.59,441.49 181.78,441.18 179.88,440.75 C177.97,440.33 176.55,440.05 175.52,438.92 C174.5,437.8 173.95,435.59 173.73,433.98 C173.5,432.37 173.03,430.16 174.18,429.26 Z" fill="none" stroke="#757575" stroke-width="0.55"/>
<path d="M176.77,430.25 C177.7,429.53 179.9,429.79 181.92,429.65 C183.94,429.51 186.76,429.32 188.9,429.4 C191.04,429.49 193.26,429.77 194.76,430.16 C196.26,430.54 197.28,431.01 197.91,431.73 C198.53,432.46 198.6,433.59 198.51,434.52 C198.42,435.46 198.2,436.52 197.37,437.32 C196.54,438.13 195.19,438.93 193.53,439.38 C191.87,439.83 189.46,440.03 187.43,440.03 C185.39,440.03 182.93,439.74 181.32,439.38 C179.71,439.02 178.62,438.79 177.79,437.89 C176.96,436.98 176.51,435.24 176.34,433.97 C176.17,432.69 175.84,430.97 176.77,430.25 Z" fill="none" stroke="#707070" stroke-width="0.55"/>
<path d="M179.36,431.23 C180.07,430.69 181.59,430.83 183.23,430.7 C184.87,430.56 187.4,430.37 189.2,430.44 C191,430.5 192.81,430.79 194.01,431.11 C195.2,431.42 195.9,431.77 196.37,432.31 C196.85,432.86 196.91,433.68 196.85,434.37 C196.79,435.05 196.63,435.83 195.99,436.43 C195.36,437.04 194.39,437.65 193.04,438.01 C191.69,438.36 189.61,438.57 187.9,438.57 C186.19,438.57 184.07,438.29 182.76,438.01 C181.45,437.72 180.68,437.52 180.05,436.85 C179.41,436.17 179.07,434.89 178.95,433.96 C178.84,433.02 178.65,431.77 179.36,431.23 Z" fill="none" stroke="#6a6a6a" stroke-width="0.55"/>
<path d="M181.95,432.21 C182.44,431.85 183.28,431.87 184.54,431.75 C185.8,431.62 188.05,431.42 189.5,431.47 C190.95,431.52 192.37,431.82 193.26,432.06 C194.15,432.3 194.52,432.53 194.84,432.89 C195.16,433.25 195.23,433.77 195.19,434.21 C195.15,434.65 195.06,435.14 194.62,435.54 C194.18,435.95 193.59,436.37 192.55,436.63 C191.51,436.89 189.77,437.12 188.38,437.12 C186.98,437.12 185.21,436.85 184.2,436.63 C183.19,436.41 182.75,436.26 182.31,435.81 C181.87,435.36 181.63,434.55 181.57,433.95 C181.51,433.35 181.45,432.58 181.95,432.21 Z" fill="none" stroke="#656565" stroke-width="0.55"/>
<path d="M184.54,433.19 C184.82,433 184.97,432.91 185.85,432.79 C186.72,432.68 188.69,432.47 189.8,432.5 C190.91,432.54 191.93,432.85 192.51,433.01 C193.1,433.17 193.14,433.3 193.31,433.47 C193.48,433.64 193.54,433.85 193.53,434.05 C193.51,434.25 193.49,434.45 193.24,434.65 C193,434.85 192.79,435.09 192.06,435.26 C191.33,435.43 189.92,435.66 188.85,435.66 C187.78,435.66 186.35,435.41 185.64,435.26 C184.92,435.11 184.81,434.99 184.57,434.77 C184.33,434.55 184.19,434.2 184.18,433.93 C184.18,433.67 184.26,433.38 184.54,433.19 Z" fill="none" stroke="#606060" stroke-width="0.55"/>
<path d="M157.2,427.3 C158.47,426.37 160.87,425.67 163,425.4 C165.13,425.13 168.07,425.27 170,425.7 C171.93,426.13 173.9,426.95 174.6,428 C175.3,429.05 174.75,430.42 174.2,432 C173.65,433.58 172.3,435.5 171.3,437.5 C170.3,439.5 169.45,442.12 168.2,444 C166.95,445.88 165.4,448.08 163.8,448.8 C162.2,449.52 159.97,449.13 158.6,448.3 C157.23,447.47 156.22,445.68 155.6,443.8 C154.98,441.92 154.93,439.13 154.9,437 C154.87,434.87 155.02,432.62 155.4,431 C155.78,429.38 155.93,428.23 157.2,427.3 Z" fill="#8a8a8a"/>
<path d="M157.2,427.3 C158.47,426.37 160.87,425.67 163,425.4 C165.13,425.13 168.07,425.27 170,425.7 C171.93,426.13 173.9,426.95 174.6,428 C175.3,429.05 174.75,430.42 174.2,432 C173.65,433.58 172.3,435.5 171.3,437.5 C170.3,439.5 169.45,442.12 168.2,444 C166.95,445.88 165.4,448.08 163.8,448.8 C162.2,449.52 159.97,449.13 158.6,448.3 C157.23,447.47 156.22,445.68 155.6,443.8 C154.98,441.92 154.93,439.13 154.9,437 C154.87,434.87 155.02,432.62 155.4,431 C155.78,429.38 155.93,428.23 157.2,427.3 Z" fill="none" stroke="#0e0e0e" stroke-width="1.1"/>
<path d="M157.86,427.97 C159,427.13 161.16,426.48 163.08,426.24 C165,426.01 167.64,426.14 169.37,426.54 C171.11,426.93 172.86,427.68 173.49,428.63 C174.13,429.57 173.64,430.79 173.16,432.22 C172.67,433.65 171.49,435.39 170.59,437.2 C169.69,439.02 168.9,441.4 167.77,443.09 C166.64,444.79 165.24,446.73 163.8,447.37 C162.36,448.01 160.36,447.66 159.13,446.91 C157.9,446.16 156.99,444.57 156.43,442.88 C155.86,441.18 155.8,438.67 155.77,436.74 C155.73,434.81 155.88,432.77 156.23,431.31 C156.58,429.84 156.72,428.81 157.86,427.97 Z" fill="none" stroke="#1a1a1a" stroke-width="0.5"/>
<path d="M158.52,428.64 C159.53,427.88 161.45,427.3 163.16,427.09 C164.86,426.88 167.21,427.01 168.75,427.37 C170.28,427.73 171.83,428.41 172.39,429.25 C172.95,430.1 172.53,431.16 172.11,432.44 C171.69,433.72 170.67,435.28 169.88,436.91 C169.08,438.53 168.35,440.68 167.33,442.18 C166.32,443.69 165.08,445.39 163.8,445.94 C162.52,446.5 160.76,446.19 159.67,445.53 C158.57,444.86 157.76,443.46 157.25,441.96 C156.75,440.45 156.67,438.21 156.64,436.49 C156.6,434.76 156.74,432.92 157.05,431.61 C157.37,430.3 157.5,429.39 158.52,428.64 Z" fill="none" stroke="#333" stroke-width="0.5"/>
<path d="M159.18,429.31 C160.07,428.64 161.74,428.12 163.23,427.93 C164.73,427.75 166.78,427.88 168.12,428.21 C169.46,428.53 170.79,429.14 171.28,429.88 C171.78,430.62 171.42,431.54 171.07,432.66 C170.72,433.78 169.86,435.18 169.16,436.61 C168.47,438.05 167.8,439.96 166.9,441.27 C166.01,442.59 164.91,444.04 163.8,444.51 C162.68,444.99 161.15,444.72 160.2,444.14 C159.24,443.56 158.53,442.36 158.08,441.04 C157.63,439.72 157.54,437.75 157.5,436.23 C157.47,434.71 157.6,433.07 157.88,431.92 C158.16,430.76 158.28,429.97 159.18,429.31 Z" fill="none" stroke="#444" stroke-width="0.5"/>
<path d="M159.83,429.98 C160.6,429.4 162.04,428.93 163.31,428.78 C164.59,428.62 166.35,428.76 167.49,429.04 C168.63,429.33 169.75,429.86 170.18,430.5 C170.6,431.14 170.32,431.91 170.03,432.88 C169.74,433.85 169.04,435.07 168.45,436.32 C167.86,437.56 167.24,439.24 166.47,440.36 C165.69,441.49 164.75,442.69 163.8,443.08 C162.84,443.48 161.55,443.25 160.73,442.75 C159.91,442.26 159.3,441.25 158.9,440.12 C158.51,438.99 158.4,437.29 158.37,435.98 C158.34,434.66 158.46,433.22 158.71,432.22 C158.95,431.22 159.07,430.55 159.83,429.98 Z" fill="none" stroke="#555" stroke-width="0.5"/>
<path d="M160.49,430.65 C161.14,430.16 162.33,429.75 163.39,429.62 C164.45,429.49 165.92,429.63 166.86,429.88 C167.81,430.13 168.72,430.59 169.07,431.13 C169.43,431.67 169.21,432.28 168.98,433.1 C168.76,433.91 168.23,434.96 167.74,436.02 C167.25,437.08 166.69,438.52 166.04,439.45 C165.38,440.39 164.59,441.34 163.79,441.66 C163,441.97 161.94,441.78 161.26,441.37 C160.58,440.96 160.07,440.14 159.73,439.2 C159.39,438.25 159.27,436.83 159.24,435.72 C159.21,434.61 159.33,433.38 159.54,432.53 C159.74,431.69 159.85,431.13 160.49,430.65 Z" fill="none" stroke="#5a5a5a" stroke-width="0.5"/>
<path d="M161.15,431.31 C161.67,430.92 162.62,430.57 163.47,430.47 C164.32,430.37 165.49,430.5 166.24,430.72 C166.99,430.93 167.68,431.32 167.97,431.75 C168.25,432.19 168.1,432.66 167.94,433.32 C167.78,433.98 167.41,434.85 167.03,435.73 C166.64,436.6 166.14,437.8 165.6,438.55 C165.07,439.3 164.43,439.99 163.79,440.23 C163.16,440.47 162.34,440.31 161.8,439.98 C161.26,439.65 160.84,439.03 160.55,438.28 C160.27,437.52 160.14,436.37 160.11,435.46 C160.07,434.56 160.19,433.53 160.36,432.84 C160.54,432.15 160.63,431.71 161.15,431.31 Z" fill="none" stroke="#666" stroke-width="0.5"/>
<path d="M161.81,431.98 C162.2,431.68 162.91,431.38 163.55,431.31 C164.18,431.24 165.06,431.38 165.61,431.55 C166.16,431.73 166.65,432.05 166.86,432.38 C167.08,432.71 166.99,433.03 166.9,433.54 C166.81,434.05 166.6,434.75 166.31,435.43 C166.03,436.11 165.59,437.08 165.17,437.64 C164.75,438.2 164.27,438.64 163.79,438.8 C163.32,438.96 162.73,438.83 162.33,438.59 C161.93,438.35 161.61,437.92 161.38,437.35 C161.15,436.79 161,435.91 160.97,435.21 C160.94,434.5 161.05,433.68 161.19,433.14 C161.33,432.61 161.42,432.29 161.81,431.98 Z" fill="none" stroke="#6a6a6a" stroke-width="0.5"/>
<path d="M162.47,432.65 C162.74,432.44 163.21,432.2 163.63,432.16 C164.05,432.11 164.63,432.25 164.98,432.39 C165.34,432.53 165.61,432.78 165.76,433.01 C165.9,433.23 165.88,433.4 165.86,433.76 C165.83,434.11 165.79,434.64 165.6,435.13 C165.41,435.63 165.04,436.35 164.74,436.73 C164.44,437.1 164.1,437.29 163.79,437.37 C163.48,437.45 163.12,437.36 162.86,437.21 C162.6,437.05 162.38,436.81 162.21,436.43 C162.04,436.06 161.87,435.45 161.84,434.95 C161.81,434.45 161.91,433.83 162.02,433.45 C162.12,433.07 162.2,432.87 162.47,432.65 Z" fill="none" stroke="#777" stroke-width="0.5"/>
<ellipse cx="163.8" cy="434.3" rx="1.0" ry="1.4" fill="#fff"/>
<rect x="172.9" y="423.7" width="47.9" height="29" fill="none" stroke="#6a6a6a" stroke-width="0.9"/>
<rect x="143.4" y="406.5" width="77.4" height="77.7" fill="none" stroke="#1a1a1a" stroke-width="1.2"/>
<text x="194.6" y="421.7" font-size="7.6" text-anchor="middle" textLength="22.2" lengthAdjust="spacingAndGlyphs">36.3 %</text>
<text x="285.6" y="401.6" font-size="8.8" text-anchor="middle" textLength="60.7" lengthAdjust="spacingAndGlyphs">Daratumumab</text>
<line x1="243.6" y1="413.5" x2="246.4" y2="413.5" stroke="#222" stroke-width="0.9"/>
<line x1="243.6" y1="430" x2="246.4" y2="430" stroke="#222" stroke-width="0.9"/>
<line x1="243.6" y1="449.6" x2="246.4" y2="449.6" stroke="#222" stroke-width="0.9"/>
<line x1="243.6" y1="461" x2="246.4" y2="461" stroke="#222" stroke-width="0.9"/>
<line x1="243.6" y1="471.8" x2="246.4" y2="471.8" stroke="#222" stroke-width="0.9"/>
<line x1="244.9" y1="418.5" x2="246.4" y2="418.5" stroke="#333" stroke-width="0.7"/>
<line x1="244.9" y1="421.4" x2="246.4" y2="421.4" stroke="#333" stroke-width="0.7"/>
<line x1="244.9" y1="424" x2="246.4" y2="424" stroke="#333" stroke-width="0.7"/>
<line x1="244.9" y1="435.3" x2="246.4" y2="435.3" stroke="#333" stroke-width="0.7"/>
<line x1="244.9" y1="440.2" x2="246.4" y2="440.2" stroke="#333" stroke-width="0.7"/>
<line x1="244.9" y1="444" x2="246.4" y2="444" stroke="#333" stroke-width="0.7"/>
<line x1="244.9" y1="446.5" x2="246.4" y2="446.5" stroke="#333" stroke-width="0.7"/>
<line x1="244.9" y1="455" x2="246.4" y2="455" stroke="#333" stroke-width="0.7"/>
<line x1="244.9" y1="466.5" x2="246.4" y2="466.5" stroke="#333" stroke-width="0.7"/>
<line x1="244.9" y1="477" x2="246.4" y2="477" stroke="#333" stroke-width="0.7"/>
<rect x="243.8" y="459.9" width="2" height="2.2" fill="#111"/>
<text x="238.8" y="416.5" font-size="7.6" text-anchor="end" textLength="8.4" lengthAdjust="spacingAndGlyphs">10</text>
<text x="239" y="413.2" font-size="5.6">5</text>
<text x="238.8" y="433" font-size="7.6" text-anchor="end" textLength="8.4" lengthAdjust="spacingAndGlyphs">10</text>
<text x="239" y="429.7" font-size="5.6">4</text>
<text x="238.8" y="452.6" font-size="7.6" text-anchor="end" textLength="8.4" lengthAdjust="spacingAndGlyphs">10</text>
<text x="239" y="449.3" font-size="5.6">3</text>
<text x="240.4" y="463.8" font-size="7.6" text-anchor="end">0</text>
<text x="239" y="474.7" font-size="7.6" text-anchor="end" textLength="14" lengthAdjust="spacingAndGlyphs">&#8722;10</text>
<text x="239.2" y="471.5" font-size="5.6">3</text>
<line x1="253.7" y1="484.2" x2="253.7" y2="487" stroke="#222" stroke-width="0.9"/>
<line x1="265.4" y1="484.2" x2="265.4" y2="487" stroke="#222" stroke-width="0.9"/>
<line x1="278.4" y1="484.2" x2="278.4" y2="487" stroke="#222" stroke-width="0.9"/>
<line x1="298.7" y1="484.2" x2="298.7" y2="487" stroke="#222" stroke-width="0.9"/>
<line x1="317.6" y1="484.2" x2="317.6" y2="487" stroke="#222" stroke-width="0.9"/>
<line x1="251.3" y1="484.2" x2="251.3" y2="485.8" stroke="#333" stroke-width="0.7"/>
<line x1="256.2" y1="484.2" x2="256.2" y2="485.8" stroke="#333" stroke-width="0.7"/>
<line x1="259.5" y1="484.2" x2="259.5" y2="485.8" stroke="#333" stroke-width="0.7"/>
<line x1="267.7" y1="484.2" x2="267.7" y2="485.8" stroke="#333" stroke-width="0.7"/>
<line x1="270.9" y1="484.2" x2="270.9" y2="485.8" stroke="#333" stroke-width="0.7"/>
<line x1="276.7" y1="484.2" x2="276.7" y2="485.8" stroke="#333" stroke-width="0.7"/>
<line x1="282.4" y1="484.2" x2="282.4" y2="485.8" stroke="#333" stroke-width="0.7"/>
<line x1="286.5" y1="484.2" x2="286.5" y2="485.8" stroke="#333" stroke-width="0.7"/>
<line x1="291.4" y1="484.2" x2="291.4" y2="485.8" stroke="#333" stroke-width="0.7"/>
<line x1="294.7" y1="484.2" x2="294.7" y2="485.8" stroke="#333" stroke-width="0.7"/>
<line x1="302.9" y1="484.2" x2="302.9" y2="485.8" stroke="#333" stroke-width="0.7"/>
<line x1="306.9" y1="484.2" x2="306.9" y2="485.8" stroke="#333" stroke-width="0.7"/>
<line x1="311.1" y1="484.2" x2="311.1" y2="485.8" stroke="#333" stroke-width="0.7"/>
<line x1="320.9" y1="484.2" x2="320.9" y2="485.8" stroke="#333" stroke-width="0.7"/>
<rect x="263" y="484.4" width="2.2" height="2" fill="#111"/>
<text x="257.7" y="495.8" font-size="7.6" text-anchor="end" textLength="13.3" lengthAdjust="spacingAndGlyphs">&#8722;10</text>
<text x="257.9" y="492.5" font-size="5.6">3</text>
<text x="265.4" y="495.8" font-size="7.6" text-anchor="middle">0</text>
<text x="280.7" y="495.8" font-size="7.6" text-anchor="end" textLength="7.9" lengthAdjust="spacingAndGlyphs">10</text>
<text x="280.9" y="492.5" font-size="5.6">3</text>
<text x="302" y="495.8" font-size="7.6" text-anchor="end" textLength="7.9" lengthAdjust="spacingAndGlyphs">10</text>
<text x="302.2" y="492.5" font-size="5.6">4</text>
<text x="319.8" y="495.8" font-size="7.6" text-anchor="end" textLength="7.9" lengthAdjust="spacingAndGlyphs">10</text>
<text x="320" y="492.5" font-size="5.6">5</text>
<path d="M266,428.3 C267.67,426.9 271.67,426.93 275,426.6 C278.33,426.27 282.33,426.27 286,426.3 C289.67,426.33 293.92,426.43 297,426.8 C300.08,427.17 302.62,427.47 304.5,428.5 C306.38,429.53 307.8,431.17 308.3,433 C308.8,434.83 308.38,437.58 307.5,439.5 C306.62,441.42 305.25,443.37 303,444.5 C300.75,445.63 297.33,446.05 294,446.3 C290.67,446.55 286.5,446.38 283,446 C279.5,445.62 275.67,444.92 273,444 C270.33,443.08 268.33,442 267,440.5 C265.67,439 265.17,437.03 265,435 C264.83,432.97 264.33,429.7 266,428.3 Z" fill="#f2f2f2"/>
<path d="M266,428.3 C267.67,426.9 271.67,426.93 275,426.6 C278.33,426.27 282.33,426.27 286,426.3 C289.67,426.33 293.92,426.43 297,426.8 C300.08,427.17 302.62,427.47 304.5,428.5 C306.38,429.53 307.8,431.17 308.3,433 C308.8,434.83 308.38,437.58 307.5,439.5 C306.62,441.42 305.25,443.37 303,444.5 C300.75,445.63 297.33,446.05 294,446.3 C290.67,446.55 286.5,446.38 283,446 C279.5,445.62 275.67,444.92 273,444 C270.33,443.08 268.33,442 267,440.5 C265.67,439 265.17,437.03 265,435 C264.83,432.97 264.33,429.7 266,428.3 Z" fill="none" stroke="#808080" stroke-width="0.55"/>
<path d="M268.76,429.08 C270.22,427.85 273.66,427.87 276.64,427.56 C279.61,427.26 283.27,427.21 286.61,427.24 C289.95,427.26 293.9,427.39 296.69,427.73 C299.47,428.06 301.64,428.34 303.29,429.24 C304.95,430.15 306.18,431.58 306.62,433.18 C307.06,434.78 306.71,437.18 305.93,438.85 C305.15,440.53 303.96,442.23 301.97,443.23 C299.98,444.22 297,444.61 293.97,444.84 C290.95,445.07 287.02,444.94 283.83,444.6 C280.65,444.26 277.23,443.61 274.85,442.8 C272.48,441.99 270.76,441.04 269.6,439.72 C268.43,438.41 267.99,436.7 267.85,434.92 C267.71,433.15 267.29,430.31 268.76,429.08 Z" fill="none" stroke="#7b7b7b" stroke-width="0.55"/>
<path d="M271.51,429.86 C272.77,428.81 275.66,428.81 278.27,428.53 C280.89,428.25 284.2,428.15 287.22,428.17 C290.23,428.2 293.89,428.35 296.37,428.65 C298.85,428.95 300.65,429.21 302.08,429.99 C303.51,430.77 304.57,431.99 304.95,433.36 C305.33,434.73 305.03,436.77 304.36,438.2 C303.69,439.63 302.68,441.09 300.94,441.95 C299.21,442.82 296.66,443.18 293.95,443.39 C291.24,443.6 287.54,443.5 284.67,443.21 C281.79,442.91 278.79,442.31 276.71,441.6 C274.63,440.89 273.19,440.07 272.19,438.95 C271.19,437.82 270.81,436.36 270.7,434.85 C270.59,433.33 270.25,430.91 271.51,429.86 Z" fill="none" stroke="#767676" stroke-width="0.55"/>
<path d="M274.27,430.64 C275.33,429.76 277.65,429.75 279.91,429.49 C282.17,429.24 285.14,429.1 287.83,429.11 C290.52,429.13 293.88,429.31 296.06,429.58 C298.23,429.85 299.67,430.07 300.87,430.73 C302.08,431.39 302.95,432.4 303.27,433.54 C303.59,434.67 303.35,436.36 302.79,437.55 C302.23,438.74 301.39,439.95 299.91,440.68 C298.43,441.41 296.32,441.74 293.92,441.93 C291.52,442.12 288.06,442.07 285.5,441.81 C282.94,441.55 280.35,441 278.56,440.39 C276.78,439.79 275.62,439.11 274.79,438.17 C273.95,437.24 273.64,436.03 273.55,434.77 C273.47,433.52 273.21,431.52 274.27,430.64 Z" fill="none" stroke="#727272" stroke-width="0.55"/>
<path d="M277.02,431.42 C277.88,430.72 279.65,430.68 281.55,430.45 C283.45,430.22 286.07,430.04 288.44,430.05 C290.8,430.06 293.87,430.26 295.74,430.5 C297.61,430.74 298.69,430.94 299.67,431.48 C300.64,432.01 301.34,432.81 301.6,433.72 C301.86,434.62 301.67,435.96 301.22,436.9 C300.77,437.85 300.1,438.81 298.88,439.4 C297.66,440 295.99,440.31 293.9,440.48 C291.81,440.65 288.58,440.63 286.33,440.41 C284.09,440.2 281.91,439.7 280.41,439.19 C278.92,438.69 278.05,438.15 277.38,437.4 C276.71,436.65 276.46,435.69 276.4,434.7 C276.34,433.7 276.17,432.13 277.02,431.42 Z" fill="none" stroke="#6d6d6d" stroke-width="0.55"/>
<path d="M279.78,432.2 C280.43,431.67 281.64,431.62 283.19,431.42 C284.73,431.21 287.01,430.98 289.04,430.99 C291.08,430.99 293.86,431.22 295.43,431.43 C296.99,431.63 297.71,431.81 298.46,432.22 C299.21,432.64 299.72,433.22 299.92,433.89 C300.12,434.57 299.99,435.55 299.65,436.26 C299.3,436.96 298.82,437.67 297.85,438.13 C296.89,438.59 295.65,438.87 293.87,439.02 C292.09,439.17 289.1,439.19 287.17,439.02 C285.23,438.84 283.47,438.39 282.27,437.99 C281.07,437.59 280.48,437.18 279.98,436.62 C279.47,436.06 279.29,435.36 279.25,434.62 C279.22,433.88 279.12,432.74 279.78,432.2 Z" fill="none" stroke="#696969" stroke-width="0.55"/>
<path d="M282.53,432.98 C282.99,432.62 283.64,432.56 284.82,432.38 C286.01,432.2 287.94,431.93 289.65,431.92 C291.37,431.92 293.84,432.18 295.11,432.35 C296.38,432.53 296.73,432.68 297.25,432.97 C297.77,433.26 298.11,433.63 298.24,434.07 C298.38,434.51 298.31,435.14 298.08,435.61 C297.84,436.07 297.53,436.53 296.82,436.85 C296.12,437.18 295.32,437.44 293.85,437.57 C292.38,437.69 289.62,437.75 288,437.62 C286.38,437.49 285.03,437.08 284.12,436.79 C283.22,436.49 282.91,436.22 282.57,435.85 C282.23,435.47 282.11,435.02 282.1,434.54 C282.1,434.07 282.08,433.34 282.53,432.98 Z" fill="none" stroke="#646464" stroke-width="0.55"/>
<path d="M285.29,433.76 C285.54,433.58 285.63,433.49 286.46,433.34 C287.29,433.19 288.87,432.87 290.26,432.86 C291.65,432.85 293.83,433.14 294.8,433.28 C295.76,433.42 295.75,433.55 296.04,433.71 C296.34,433.88 296.49,434.05 296.57,434.25 C296.65,434.46 296.64,434.74 296.51,434.96 C296.38,435.18 296.24,435.39 295.79,435.58 C295.35,435.77 294.98,436 293.82,436.11 C292.66,436.22 290.14,436.31 288.84,436.22 C287.53,436.13 286.59,435.78 285.98,435.59 C285.36,435.4 285.34,435.26 285.17,435.07 C285,434.88 284.93,434.69 284.95,434.47 C284.98,434.25 285.04,433.95 285.29,433.76 Z" fill="none" stroke="#606060" stroke-width="0.55"/>
<path d="M262,427 C263.3,426.22 265.75,425.55 268,425.3 C270.25,425.05 273.42,425.18 275.5,425.5 C277.58,425.82 279.92,426.48 280.5,427.2 C281.08,427.92 279.98,429.13 279,429.8 C278.02,430.47 275.63,430.17 274.6,431.2 C273.57,432.23 273.3,433.95 272.8,436 C272.3,438.05 272.47,441.3 271.6,443.5 C270.73,445.7 269.1,448.32 267.6,449.2 C266.1,450.08 263.88,449.83 262.6,448.8 C261.32,447.77 260.4,445.3 259.9,443 C259.4,440.7 259.55,437.17 259.6,435 C259.65,432.83 259.8,431.33 260.2,430 C260.6,428.67 260.7,427.78 262,427 Z" fill="#a8a8a8"/>
<path d="M262,427 C263.3,426.22 265.75,425.55 268,425.3 C270.25,425.05 273.42,425.18 275.5,425.5 C277.58,425.82 279.92,426.48 280.5,427.2 C281.08,427.92 279.98,429.13 279,429.8 C278.02,430.47 275.63,430.17 274.6,431.2 C273.57,432.23 273.3,433.95 272.8,436 C272.3,438.05 272.47,441.3 271.6,443.5 C270.73,445.7 269.1,448.32 267.6,449.2 C266.1,450.08 263.88,449.83 262.6,448.8 C261.32,447.77 260.4,445.3 259.9,443 C259.4,440.7 259.55,437.17 259.6,435 C259.65,432.83 259.8,431.33 260.2,430 C260.6,428.67 260.7,427.78 262,427 Z" fill="none" stroke="#0a0a0a" stroke-width="1"/>
<path d="M262.28,427.73 C263.47,426.99 265.71,426.35 267.77,426.12 C269.83,425.89 272.72,426.04 274.63,426.35 C276.53,426.66 278.65,427.3 279.18,427.97 C279.72,428.63 278.72,429.75 277.83,430.35 C276.94,430.96 274.77,430.63 273.84,431.6 C272.9,432.57 272.68,434.25 272.21,436.18 C271.75,438.1 271.87,441.13 271.07,443.16 C270.26,445.18 268.78,447.54 267.4,448.34 C266.03,449.14 264.02,448.9 262.84,447.95 C261.67,447 260.83,444.76 260.37,442.63 C259.9,440.5 260.03,437.21 260.07,435.2 C260.11,433.18 260.26,431.77 260.62,430.52 C260.99,429.28 261.09,428.46 262.28,427.73 Z" fill="none" stroke="#111" stroke-width="0.6"/>
<path d="M262.55,428.45 C263.63,427.77 265.67,427.14 267.53,426.93 C269.4,426.72 272.03,426.9 273.75,427.2 C275.48,427.5 277.38,428.12 277.86,428.73 C278.35,429.35 277.45,430.36 276.66,430.91 C275.86,431.45 273.91,431.09 273.07,432 C272.24,432.9 272.05,434.55 271.63,436.36 C271.21,438.16 271.27,440.96 270.53,442.82 C269.8,444.67 268.45,446.76 267.21,447.47 C265.97,448.19 264.15,447.97 263.09,447.1 C262.02,446.23 261.26,444.21 260.83,442.26 C260.41,440.31 260.5,437.26 260.54,435.39 C260.57,433.52 260.71,432.2 261.05,431.04 C261.38,429.88 261.47,429.14 262.55,428.45 Z" fill="none" stroke="#1a1a1a" stroke-width="0.5"/>
<path d="M262.83,429.18 C263.8,428.54 265.63,427.94 267.3,427.75 C268.98,427.56 271.34,427.76 272.88,428.05 C274.42,428.34 276.11,428.93 276.55,429.5 C276.98,430.07 276.19,430.98 275.48,431.46 C274.78,431.94 273.05,431.55 272.31,432.39 C271.57,433.24 271.43,434.85 271.04,436.53 C270.66,438.21 270.67,440.8 270,442.47 C269.33,444.15 268.13,445.98 267.01,446.61 C265.9,447.24 264.28,447.04 263.33,446.25 C262.38,445.47 261.68,443.67 261.3,441.89 C260.91,440.11 260.98,437.31 261.01,435.59 C261.04,433.87 261.17,432.63 261.47,431.56 C261.78,430.49 261.86,429.81 262.83,429.18 Z" fill="none" stroke="#2a2a2a" stroke-width="0.5"/>
<path d="M263.1,429.9 C263.97,429.32 265.59,428.73 267.07,428.57 C268.55,428.4 270.65,428.62 272.01,428.9 C273.37,429.19 274.84,429.75 275.23,430.27 C275.61,430.79 274.93,431.59 274.31,432.01 C273.7,432.43 272.19,432.01 271.55,432.79 C270.9,433.58 270.8,435.16 270.46,436.71 C270.11,438.27 270.07,440.63 269.47,442.13 C268.86,443.64 267.8,445.2 266.82,445.75 C265.84,446.29 264.42,446.11 263.57,445.41 C262.73,444.7 262.11,443.12 261.76,441.52 C261.41,439.91 261.45,437.36 261.48,435.78 C261.5,434.21 261.63,433.06 261.9,432.08 C262.17,431.1 262.24,430.49 263.1,429.9 Z" fill="none" stroke="#3a3a3a" stroke-width="0.5"/>
<path d="M263.38,430.63 C264.13,430.09 265.54,429.53 266.84,429.38 C268.13,429.24 269.96,429.48 271.14,429.75 C272.31,430.03 273.58,430.57 273.91,431.03 C274.24,431.5 273.66,432.21 273.14,432.56 C272.62,432.92 271.33,432.47 270.78,433.19 C270.24,433.91 270.18,435.46 269.87,436.89 C269.56,438.32 269.47,440.46 268.93,441.79 C268.39,443.12 267.48,444.42 266.62,444.88 C265.77,445.34 264.55,445.18 263.82,444.56 C263.09,443.93 262.54,442.58 262.23,441.15 C261.92,439.72 261.93,437.4 261.94,435.98 C261.96,434.55 262.08,433.49 262.32,432.6 C262.56,431.71 262.63,431.17 263.38,430.63 Z" fill="none" stroke="#555" stroke-width="0.45"/>
<path d="M263.65,431.35 C264.3,430.87 265.5,430.32 266.6,430.2 C267.71,430.07 269.26,430.34 270.26,430.61 C271.26,430.87 272.31,431.38 272.59,431.8 C272.88,432.22 272.4,432.82 271.97,433.12 C271.54,433.42 270.47,432.93 270.02,433.59 C269.57,434.25 269.56,435.76 269.29,437.07 C269.02,438.38 268.87,440.29 268.4,441.45 C267.92,442.61 267.15,443.64 266.43,444.02 C265.71,444.4 264.68,444.25 264.06,443.71 C263.44,443.17 262.97,442.03 262.69,440.78 C262.42,439.52 262.4,437.45 262.41,436.17 C262.42,434.9 262.54,433.92 262.75,433.12 C262.95,432.32 263.01,431.84 263.65,431.35 Z" fill="none" stroke="#777" stroke-width="0.45"/>
<path d="M263.93,432.08 C264.46,431.64 265.46,431.12 266.37,431.02 C267.28,430.91 268.57,431.2 269.39,431.46 C270.21,431.72 271.04,432.2 271.27,432.57 C271.51,432.94 271.13,433.43 270.8,433.67 C270.46,433.91 269.6,433.39 269.26,433.99 C268.91,434.58 268.93,436.06 268.7,437.25 C268.47,438.43 268.28,440.12 267.86,441.11 C267.45,442.09 266.83,442.86 266.23,443.16 C265.64,443.45 264.82,443.32 264.31,442.86 C263.79,442.4 263.4,441.49 263.16,440.41 C262.92,439.32 262.88,437.5 262.88,436.37 C262.88,435.24 262.99,434.36 263.17,433.64 C263.34,432.93 263.4,432.52 263.93,432.08 Z" fill="none" stroke="#888" stroke-width="0.45"/>
<path d="M264.21,432.81 C264.63,432.42 265.42,431.92 266.14,431.83 C266.86,431.75 267.88,432.06 268.52,432.31 C269.15,432.56 269.77,433.02 269.96,433.34 C270.14,433.65 269.87,434.05 269.63,434.22 C269.38,434.4 268.74,433.85 268.49,434.39 C268.24,434.92 268.31,436.36 268.12,437.42 C267.92,438.49 267.68,439.95 267.33,440.77 C266.99,441.58 266.5,442.09 266.04,442.29 C265.58,442.5 264.95,442.39 264.55,442.01 C264.15,441.63 263.83,440.94 263.63,440.04 C263.43,439.13 263.36,437.54 263.35,436.57 C263.34,435.59 263.45,434.79 263.59,434.16 C263.74,433.54 263.78,433.19 264.21,432.81 Z" fill="none" stroke="#999" stroke-width="0.45"/>
<ellipse cx="265.3" cy="436" rx="0.9" ry="2.2" fill="#f2f2f2"/>
<rect x="275.6" y="423.7" width="48.2" height="29" fill="none" stroke="#6a6a6a" stroke-width="0.9"/>
<rect x="246.4" y="406.5" width="77.4" height="77.7" fill="none" stroke="#1a1a1a" stroke-width="1.2"/>
<text x="299.3" y="421.7" font-size="7.6" text-anchor="middle" textLength="22.4" lengthAdjust="spacingAndGlyphs">44.5 %</text>
<text x="386.4" y="401.6" font-size="8.8" text-anchor="middle" textLength="49.5" lengthAdjust="spacingAndGlyphs">SAR442085</text>
<line x1="344.4" y1="413.5" x2="347.2" y2="413.5" stroke="#222" stroke-width="0.9"/>
<line x1="344.4" y1="430" x2="347.2" y2="430" stroke="#222" stroke-width="0.9"/>
<line x1="344.4" y1="449.6" x2="347.2" y2="449.6" stroke="#222" stroke-width="0.9"/>
<line x1="344.4" y1="461" x2="347.2" y2="461" stroke="#222" stroke-width="0.9"/>
<line x1="344.4" y1="471.8" x2="347.2" y2="471.8" stroke="#222" stroke-width="0.9"/>
<line x1="345.7" y1="418.5" x2="347.2" y2="418.5" stroke="#333" stroke-width="0.7"/>
<line x1="345.7" y1="421.4" x2="347.2" y2="421.4" stroke="#333" stroke-width="0.7"/>
<line x1="345.7" y1="424" x2="347.2" y2="424" stroke="#333" stroke-width="0.7"/>
<line x1="345.7" y1="435.3" x2="347.2" y2="435.3" stroke="#333" stroke-width="0.7"/>
<line x1="345.7" y1="440.2" x2="347.2" y2="440.2" stroke="#333" stroke-width="0.7"/>
<line x1="345.7" y1="444" x2="347.2" y2="444" stroke="#333" stroke-width="0.7"/>
<line x1="345.7" y1="446.5" x2="347.2" y2="446.5" stroke="#333" stroke-width="0.7"/>
<line x1="345.7" y1="455" x2="347.2" y2="455" stroke="#333" stroke-width="0.7"/>
<line x1="345.7" y1="466.5" x2="347.2" y2="466.5" stroke="#333" stroke-width="0.7"/>
<line x1="345.7" y1="477" x2="347.2" y2="477" stroke="#333" stroke-width="0.7"/>
<rect x="344.6" y="459.9" width="2" height="2.2" fill="#111"/>
<text x="339.6" y="416.5" font-size="7.6" text-anchor="end" textLength="8.4" lengthAdjust="spacingAndGlyphs">10</text>
<text x="339.8" y="413.2" font-size="5.6">5</text>
<text x="339.6" y="433" font-size="7.6" text-anchor="end" textLength="8.4" lengthAdjust="spacingAndGlyphs">10</text>
<text x="339.8" y="429.7" font-size="5.6">4</text>
<text x="339.6" y="452.6" font-size="7.6" text-anchor="end" textLength="8.4" lengthAdjust="spacingAndGlyphs">10</text>
<text x="339.8" y="449.3" font-size="5.6">3</text>
<text x="341.2" y="463.8" font-size="7.6" text-anchor="end">0</text>
<text x="339.8" y="474.7" font-size="7.6" text-anchor="end" textLength="14" lengthAdjust="spacingAndGlyphs">&#8722;10</text>
<text x="340" y="471.5" font-size="5.6">3</text>
<line x1="354.5" y1="484.2" x2="354.5" y2="487" stroke="#222" stroke-width="0.9"/>
<line x1="366.2" y1="484.2" x2="366.2" y2="487" stroke="#222" stroke-width="0.9"/>
<line x1="379.2" y1="484.2" x2="379.2" y2="487" stroke="#222" stroke-width="0.9"/>
<line x1="399.5" y1="484.2" x2="399.5" y2="487" stroke="#222" stroke-width="0.9"/>
<line x1="418.4" y1="484.2" x2="418.4" y2="487" stroke="#222" stroke-width="0.9"/>
<line x1="352.1" y1="484.2" x2="352.1" y2="485.8" stroke="#333" stroke-width="0.7"/>
<line x1="357" y1="484.2" x2="357" y2="485.8" stroke="#333" stroke-width="0.7"/>
<line x1="360.3" y1="484.2" x2="360.3" y2="485.8" stroke="#333" stroke-width="0.7"/>
<line x1="368.5" y1="484.2" x2="368.5" y2="485.8" stroke="#333" stroke-width="0.7"/>
<line x1="371.7" y1="484.2" x2="371.7" y2="485.8" stroke="#333" stroke-width="0.7"/>
<line x1="377.5" y1="484.2" x2="377.5" y2="485.8" stroke="#333" stroke-width="0.7"/>
<line x1="383.2" y1="484.2" x2="383.2" y2="485.8" stroke="#333" stroke-width="0.7"/>
<line x1="387.3" y1="484.2" x2="387.3" y2="485.8" stroke="#333" stroke-width="0.7"/>
<line x1="392.2" y1="484.2" x2="392.2" y2="485.8" stroke="#333" stroke-width="0.7"/>
<line x1="395.5" y1="484.2" x2="395.5" y2="485.8" stroke="#333" stroke-width="0.7"/>
<line x1="403.7" y1="484.2" x2="403.7" y2="485.8" stroke="#333" stroke-width="0.7"/>
<line x1="407.7" y1="484.2" x2="407.7" y2="485.8" stroke="#333" stroke-width="0.7"/>
<line x1="411.9" y1="484.2" x2="411.9" y2="485.8" stroke="#333" stroke-width="0.7"/>
<line x1="421.7" y1="484.2" x2="421.7" y2="485.8" stroke="#333" stroke-width="0.7"/>
<rect x="363.8" y="484.4" width="2.2" height="2" fill="#111"/>
<text x="358.5" y="495.8" font-size="7.6" text-anchor="end" textLength="13.3" lengthAdjust="spacingAndGlyphs">&#8722;10</text>
<text x="358.7" y="492.5" font-size="5.6">3</text>
<text x="366.2" y="495.8" font-size="7.6" text-anchor="middle">0</text>
<text x="381.5" y="495.8" font-size="7.6" text-anchor="end" textLength="7.9" lengthAdjust="spacingAndGlyphs">10</text>
<text x="381.7" y="492.5" font-size="5.6">3</text>
<text x="402.8" y="495.8" font-size="7.6" text-anchor="end" textLength="7.9" lengthAdjust="spacingAndGlyphs">10</text>
<text x="403" y="492.5" font-size="5.6">4</text>
<text x="420.6" y="495.8" font-size="7.6" text-anchor="end" textLength="7.9" lengthAdjust="spacingAndGlyphs">10</text>
<text x="420.8" y="492.5" font-size="5.6">5</text>
<path d="M364.5,429.5 C365.62,428.6 367.92,427.05 370,426.6 C372.08,426.15 375,426.52 377,426.8 C379,427.08 380.33,428.23 382,428.3 C383.67,428.37 385,427.62 387,427.2 C389,426.78 391.5,426.13 394,425.8 C396.5,425.47 399.33,425.23 402,425.2 C404.67,425.17 407.92,425.13 410,425.6 C412.08,426.07 413.63,426.68 414.5,428 C415.37,429.32 415.37,431.58 415.2,433.5 C415.03,435.42 414.62,437.92 413.5,439.5 C412.38,441.08 410.75,442.28 408.5,443 C406.25,443.72 402.75,443.77 400,443.8 C397.25,443.83 394.33,443.25 392,443.2 C389.67,443.15 387.83,443.12 386,443.5 C384.17,443.88 383,444.65 381,445.5 C379,446.35 376.33,448.22 374,448.6 C371.67,448.98 368.83,448.57 367,447.8 C365.17,447.03 363.75,445.8 363,444 C362.25,442.2 362.45,439 362.5,437 C362.55,435 362.97,433.25 363.3,432 C363.63,430.75 363.38,430.4 364.5,429.5 Z" fill="#e4e4e4"/>
<path d="M364.5,429.5 C365.62,428.6 367.92,427.05 370,426.6 C372.08,426.15 375,426.52 377,426.8 C379,427.08 380.33,428.23 382,428.3 C383.67,428.37 385,427.62 387,427.2 C389,426.78 391.5,426.13 394,425.8 C396.5,425.47 399.33,425.23 402,425.2 C404.67,425.17 407.92,425.13 410,425.6 C412.08,426.07 413.63,426.68 414.5,428 C415.37,429.32 415.37,431.58 415.2,433.5 C415.03,435.42 414.62,437.92 413.5,439.5 C412.38,441.08 410.75,442.28 408.5,443 C406.25,443.72 402.75,443.77 400,443.8 C397.25,443.83 394.33,443.25 392,443.2 C389.67,443.15 387.83,443.12 386,443.5 C384.17,443.88 383,444.65 381,445.5 C379,446.35 376.33,448.22 374,448.6 C371.67,448.98 368.83,448.57 367,447.8 C365.17,447.03 363.75,445.8 363,444 C362.25,442.2 362.45,439 362.5,437 C362.55,435 362.97,433.25 363.3,432 C363.63,430.75 363.38,430.4 364.5,429.5 Z" fill="none" stroke="#444" stroke-width="0.8"/>
<path d="M367.04,430.08 C368.05,429.27 370.11,427.86 371.98,427.44 C373.85,427.02 376.46,427.32 378.26,427.55 C380.07,427.77 381.22,428.79 382.79,428.82 C384.36,428.85 385.7,428.11 387.67,427.73 C389.65,427.34 392.24,426.77 394.66,426.5 C397.07,426.22 399.71,426.08 402.17,426.09 C404.62,426.1 407.52,426.1 409.4,426.54 C411.28,426.98 412.66,427.54 413.45,428.73 C414.24,429.92 414.26,431.96 414.12,433.69 C413.98,435.42 413.61,437.67 412.61,439.1 C411.61,440.54 410.16,441.62 408.13,442.29 C406.11,442.96 403.01,443.04 400.45,443.12 C397.89,443.2 395.08,442.77 392.78,442.75 C390.47,442.73 388.42,442.66 386.62,442.98 C384.81,443.3 383.78,443.94 381.95,444.67 C380.12,445.4 377.75,447.04 375.65,447.36 C373.55,447.68 371,447.28 369.35,446.58 C367.69,445.87 366.42,444.76 365.73,443.14 C365.05,441.52 365.2,438.64 365.24,436.84 C365.28,435.04 365.66,433.47 365.96,432.34 C366.26,431.21 366.04,430.9 367.04,430.08 Z" fill="none" stroke="#6a6a6a" stroke-width="0.5"/>
<path d="M369.59,430.67 C370.48,429.94 372.3,428.68 373.95,428.28 C375.61,427.88 377.92,428.12 379.53,428.29 C381.13,428.47 382.12,429.34 383.59,429.33 C385.06,429.33 386.39,428.61 388.35,428.25 C390.3,427.9 392.99,427.41 395.32,427.19 C397.65,426.98 400.09,426.93 402.33,426.98 C404.58,427.03 407.13,427.07 408.8,427.48 C410.48,427.89 411.7,428.39 412.4,429.46 C413.11,430.53 413.15,432.33 413.04,433.87 C412.93,435.42 412.6,437.42 411.72,438.7 C410.85,439.99 409.57,440.96 407.77,441.58 C405.96,442.2 403.27,442.32 400.91,442.44 C398.54,442.56 395.84,442.3 393.56,442.3 C391.28,442.31 389.01,442.2 387.24,442.46 C385.46,442.71 384.55,443.23 382.9,443.84 C381.24,444.45 379.17,445.87 377.3,446.12 C375.43,446.37 373.16,446 371.69,445.36 C370.22,444.72 369.08,443.73 368.46,442.28 C367.85,440.84 367.96,438.28 367.98,436.68 C368.01,435.08 368.36,433.68 368.62,432.68 C368.89,431.68 368.7,431.4 369.59,430.67 Z" fill="none" stroke="#7a7a7a" stroke-width="0.5"/>
<path d="M372.13,431.25 C372.91,430.6 374.49,429.49 375.93,429.12 C377.38,428.75 379.39,428.91 380.79,429.04 C382.2,429.16 383.01,429.89 384.38,429.85 C385.75,429.81 387.09,429.11 389.02,428.78 C390.95,428.45 393.73,428.04 395.98,427.89 C398.22,427.74 400.46,427.78 402.5,427.87 C404.54,427.96 406.73,428.03 408.21,428.42 C409.68,428.81 410.73,429.25 411.35,430.19 C411.98,431.13 412.05,432.71 411.96,434.06 C411.88,435.41 411.6,437.17 410.84,438.31 C410.08,439.44 408.98,440.3 407.4,440.87 C405.82,441.45 403.54,441.59 401.36,441.76 C399.18,441.92 396.59,441.82 394.34,441.85 C392.09,441.88 389.6,441.74 387.85,441.94 C386.1,442.13 385.33,442.53 383.84,443.02 C382.36,443.51 380.58,444.69 378.95,444.88 C377.32,445.07 375.33,444.71 374.04,444.13 C372.74,443.56 371.75,442.69 371.19,441.42 C370.64,440.15 370.71,437.93 370.73,436.53 C370.74,435.13 371.05,433.9 371.28,433.02 C371.52,432.14 371.36,431.9 372.13,431.25 Z" fill="none" stroke="#808080" stroke-width="0.5"/>
<path d="M374.68,431.84 C375.34,431.27 376.68,430.3 377.91,429.96 C379.14,429.62 380.85,429.71 382.06,429.78 C383.27,429.85 383.9,430.44 385.17,430.37 C386.44,430.29 387.78,429.6 389.69,429.31 C391.61,429.01 394.47,428.68 396.64,428.59 C398.8,428.5 400.84,428.63 402.67,428.76 C404.5,428.89 406.33,429 407.61,429.36 C408.88,429.72 409.76,430.11 410.3,430.92 C410.85,431.74 410.94,433.08 410.88,434.25 C410.82,435.41 410.59,436.92 409.95,437.91 C409.31,438.89 408.39,439.63 407.03,440.16 C405.68,440.69 403.8,440.87 401.81,441.07 C399.83,441.28 397.34,441.35 395.12,441.41 C392.89,441.46 390.19,441.28 388.47,441.41 C386.75,441.54 386.1,441.82 384.79,442.19 C383.48,442.56 382,443.52 380.6,443.64 C379.2,443.76 377.49,443.43 376.38,442.91 C375.27,442.4 374.41,441.65 373.93,440.56 C373.44,439.47 373.47,437.57 373.47,436.37 C373.47,435.17 373.74,434.11 373.94,433.36 C374.15,432.6 374.02,432.41 374.68,431.84 Z" fill="none" stroke="#808080" stroke-width="0.5"/>
<path d="M377.22,432.42 C377.77,431.94 378.87,431.12 379.89,430.8 C380.9,430.48 382.31,430.51 383.32,430.53 C384.33,430.54 384.79,431 385.96,430.88 C387.14,430.77 388.48,430.1 390.37,429.83 C392.26,429.57 395.22,429.32 397.3,429.29 C399.37,429.26 401.22,429.48 402.84,429.65 C404.45,429.82 405.94,429.96 407.01,430.3 C408.08,430.63 408.79,430.96 409.25,431.65 C409.72,432.34 409.84,433.46 409.8,434.44 C409.77,435.41 409.58,436.67 409.06,437.51 C408.54,438.35 407.8,438.97 406.66,439.45 C405.53,439.93 404.06,440.14 402.27,440.39 C400.47,440.64 398.09,440.87 395.89,440.96 C393.7,441.04 390.78,440.82 389.09,440.89 C387.4,440.96 386.88,441.11 385.74,441.36 C384.6,441.61 383.42,442.35 382.25,442.4 C381.08,442.46 379.66,442.14 378.73,441.69 C377.79,441.24 377.08,440.62 376.66,439.7 C376.24,438.79 376.22,437.21 376.21,436.21 C376.2,435.21 376.44,434.33 376.61,433.7 C376.77,433.06 376.68,432.91 377.22,432.42 Z" fill="none" stroke="#7a7a7a" stroke-width="0.5"/>
<path d="M379.77,433.01 C380.2,432.61 381.06,431.93 381.86,431.64 C382.67,431.35 383.77,431.31 384.59,431.27 C385.4,431.23 385.68,431.55 386.76,431.4 C387.83,431.25 389.17,430.6 391.04,430.36 C392.91,430.12 395.96,429.95 397.96,429.98 C399.95,430.01 401.59,430.33 403,430.54 C404.41,430.75 405.54,430.93 406.41,431.24 C407.28,431.55 407.82,431.82 408.2,432.38 C408.59,432.95 408.73,433.83 408.73,434.62 C408.72,435.41 408.58,436.43 408.17,437.11 C407.77,437.8 407.21,438.31 406.3,438.74 C405.39,439.17 404.32,439.42 402.72,439.71 C401.12,440.01 398.84,440.4 396.67,440.51 C394.5,440.62 391.37,440.37 389.71,440.37 C388.04,440.37 387.65,440.4 386.69,440.53 C385.72,440.66 384.84,441.17 383.9,441.16 C382.96,441.15 381.82,440.85 381.07,440.47 C380.32,440.08 379.74,439.58 379.39,438.85 C379.04,438.11 378.97,436.85 378.95,436.05 C378.93,435.25 379.13,434.54 379.27,434.04 C379.4,433.53 379.33,433.41 379.77,433.01 Z" fill="none" stroke="#707070" stroke-width="0.5"/>
<path d="M385,428.5 C386.25,427.2 389.5,426.73 392,426.2 C394.5,425.67 397.17,425.43 400,425.3 C402.83,425.17 406.67,425.03 409,425.4 C411.33,425.77 412.93,426.32 414,427.5 C415.07,428.68 415.4,430.67 415.4,432.5 C415.4,434.33 415.07,436.83 414,438.5 C412.93,440.17 411.33,441.67 409,442.5 C406.67,443.33 403,443.5 400,443.5 C397,443.5 393.33,443.17 391,442.5 C388.67,441.83 387.08,440.92 386,439.5 C384.92,438.08 384.67,435.83 384.5,434 C384.33,432.17 383.75,429.8 385,428.5 Z" fill="#d4d4d4"/>
<path d="M385,428.5 C386.25,427.2 389.5,426.73 392,426.2 C394.5,425.67 397.17,425.43 400,425.3 C402.83,425.17 406.67,425.03 409,425.4 C411.33,425.77 412.93,426.32 414,427.5 C415.07,428.68 415.4,430.67 415.4,432.5 C415.4,434.33 415.07,436.83 414,438.5 C412.93,440.17 411.33,441.67 409,442.5 C406.67,443.33 403,443.5 400,443.5 C397,443.5 393.33,443.17 391,442.5 C388.67,441.83 387.08,440.92 386,439.5 C384.92,438.08 384.67,435.83 384.5,434 C384.33,432.17 383.75,429.8 385,428.5 Z" fill="none" stroke="#161616" stroke-width="1.3"/>
<path d="M387.01,429.3 C388.11,428.17 390.91,427.75 393.12,427.27 C395.33,426.8 397.75,426.58 400.28,426.46 C402.81,426.35 406.24,426.26 408.31,426.59 C410.37,426.92 411.74,427.4 412.68,428.43 C413.62,429.46 413.92,431.17 413.92,432.77 C413.93,434.36 413.64,436.52 412.71,437.97 C411.78,439.42 410.4,440.73 408.33,441.46 C406.26,442.19 402.96,442.37 400.28,442.37 C397.6,442.37 394.31,442.05 392.24,441.46 C390.17,440.87 388.81,440.07 387.87,438.84 C386.92,437.61 386.7,435.66 386.55,434.07 C386.41,432.48 385.92,430.43 387.01,429.3 Z" fill="none" stroke="#333" stroke-width="0.6"/>
<path d="M389.03,430.09 C389.97,429.13 392.32,428.76 394.24,428.35 C396.17,427.94 398.34,427.72 400.57,427.62 C402.8,427.53 405.82,427.49 407.61,427.78 C409.41,428.07 410.55,428.48 411.36,429.36 C412.17,430.23 412.44,431.68 412.45,433.03 C412.46,434.38 412.22,436.21 411.42,437.44 C410.62,438.68 409.46,439.79 407.65,440.42 C405.84,441.05 402.93,441.23 400.57,441.23 C398.2,441.23 395.29,440.93 393.48,440.42 C391.68,439.91 390.54,439.23 389.73,438.18 C388.92,437.13 388.73,435.48 388.61,434.13 C388.49,432.79 388.09,431.06 389.03,430.09 Z" fill="none" stroke="#555" stroke-width="0.5"/>
<path d="M391.04,430.89 C391.82,430.1 393.73,429.77 395.37,429.42 C397,429.07 398.92,428.86 400.85,428.79 C402.78,428.71 405.39,428.72 406.92,428.97 C408.45,429.22 409.37,429.56 410.04,430.28 C410.72,431.01 410.96,432.19 410.97,433.3 C410.98,434.4 410.79,435.9 410.13,436.92 C409.46,437.93 408.52,438.85 406.98,439.38 C405.43,439.91 402.89,440.1 400.85,440.1 C398.81,440.1 396.26,439.81 394.72,439.38 C393.18,438.95 392.28,438.38 391.6,437.52 C390.92,436.65 390.76,435.3 390.66,434.2 C390.57,433.09 390.26,431.69 391.04,430.89 Z" fill="none" stroke="#6a6a6a" stroke-width="0.5"/>
<path d="M393.05,431.69 C393.68,431.06 395.14,430.79 396.49,430.5 C397.83,430.2 399.51,430 401.13,429.95 C402.76,429.89 404.96,429.94 406.23,430.15 C407.49,430.36 408.18,430.65 408.72,431.21 C409.26,431.78 409.47,432.7 409.49,433.56 C409.51,434.42 409.37,435.59 408.83,436.39 C408.3,437.19 407.59,437.91 406.3,438.34 C405.02,438.77 402.86,438.97 401.13,438.97 C399.41,438.97 397.24,438.69 395.96,438.34 C394.68,437.99 394.01,437.54 393.47,436.86 C392.92,436.18 392.79,435.13 392.72,434.27 C392.65,433.4 392.43,432.32 393.05,431.69 Z" fill="none" stroke="#7a7a7a" stroke-width="0.5"/>
<path d="M395.07,432.49 C395.54,432.03 396.55,431.8 397.61,431.57 C398.67,431.34 400.1,431.15 401.42,431.11 C402.74,431.07 404.54,431.17 405.54,431.34 C406.53,431.51 406.99,431.73 407.4,432.14 C407.81,432.56 407.99,433.21 408.02,433.83 C408.04,434.45 407.94,435.28 407.54,435.86 C407.15,436.44 406.65,436.98 405.63,437.3 C404.61,437.63 402.82,437.83 401.42,437.83 C400.01,437.83 398.22,437.58 397.2,437.3 C396.19,437.03 395.74,436.69 395.33,436.2 C394.93,435.7 394.82,434.95 394.77,434.33 C394.73,433.71 394.6,432.95 395.07,432.49 Z" fill="none" stroke="#8a8a8a" stroke-width="0.5"/>
<path d="M397.08,433.28 C397.4,432.99 397.96,432.81 398.73,432.64 C399.5,432.47 400.68,432.29 401.7,432.27 C402.72,432.25 404.11,432.4 404.84,432.53 C405.57,432.66 405.8,432.81 406.08,433.07 C406.36,433.33 406.51,433.71 406.54,434.09 C406.57,434.47 406.52,434.97 406.25,435.33 C405.99,435.7 405.71,436.04 404.96,436.26 C404.2,436.49 402.79,436.7 401.7,436.7 C400.61,436.7 399.19,436.46 398.44,436.26 C397.69,436.07 397.47,435.85 397.2,435.54 C396.93,435.22 396.85,434.77 396.83,434.4 C396.81,434.02 396.77,433.58 397.08,433.28 Z" fill="none" stroke="#9a9a9a" stroke-width="0.5"/>
<ellipse cx="401" cy="434.5" rx="4" ry="1.2" fill="#f2f2f2" opacity="0.9"/>
<rect x="377.1" y="423.7" width="47.5" height="29" fill="none" stroke="#b0b0b0" stroke-width="0.9"/>
<rect x="347.2" y="406.5" width="77.4" height="77.7" fill="none" stroke="#1a1a1a" stroke-width="1.2"/>
<text x="400.4" y="421.7" font-size="7.6" text-anchor="middle" textLength="23.2" lengthAdjust="spacingAndGlyphs">77.4 %</text>
<text x="18.4" y="445.5" font-size="9.4" text-anchor="middle" textLength="18.6" lengthAdjust="spacingAndGlyphs" transform="rotate(-90 18.4 445.5)">CD56</text>
<text x="45" y="509.8" font-size="9" textLength="26.3" lengthAdjust="spacingAndGlyphs">CD107a</text>
<line x1="74.2" y1="507.3" x2="413" y2="507.3" stroke="#1a1a1a" stroke-width="1"/>
<path d="M423.5,507.3 L412.2,504.5 L413.6,507.3 L412.2,510.2 Z" fill="#1a1a1a" stroke="none" stroke-width="1"/>
<line x1="449.2" y1="361.8" x2="460.5" y2="361.8" stroke="#17a837" stroke-width="1.1"/>
<circle cx="454.85" cy="361.8" r="1.9" fill="#17a837"/>
<text x="464.6" y="364.4" font-size="7.4" textLength="35.1" lengthAdjust="spacingAndGlyphs">Isatuximab</text>
<line x1="449.2" y1="373.2" x2="460.5" y2="373.2" stroke="#c8102e" stroke-width="1.1"/>
<circle cx="454.85" cy="373.2" r="1.9" fill="#c8102e"/>
<text x="464.6" y="375.8" font-size="7.4" textLength="38.1" lengthAdjust="spacingAndGlyphs">SAR442085</text>
<line x1="449.2" y1="384.7" x2="460.5" y2="384.7" stroke="#0b4b8f" stroke-width="1.1"/>
<circle cx="454.85" cy="384.7" r="1.9" fill="#0b4b8f"/>
<text x="464.6" y="387.3" font-size="7.4" textLength="47.3" lengthAdjust="spacingAndGlyphs">Daratumumab</text>
<line x1="462" y1="494.4" x2="462" y2="401.5" stroke="#444444" stroke-width="1.3"/>
<line x1="458.8" y1="493.8" x2="462" y2="493.8" stroke="#444444" stroke-width="1.1"/>
<text x="457.7" y="496.8" font-size="8.6" text-anchor="end">0</text>
<line x1="458.8" y1="475.4" x2="462" y2="475.4" stroke="#444444" stroke-width="1.1"/>
<text x="457.7" y="478.4" font-size="8.6" text-anchor="end" textLength="8.8" lengthAdjust="spacingAndGlyphs">20</text>
<line x1="458.8" y1="457" x2="462" y2="457" stroke="#444444" stroke-width="1.1"/>
<text x="457.7" y="460" font-size="8.6" text-anchor="end" textLength="8.8" lengthAdjust="spacingAndGlyphs">40</text>
<line x1="458.8" y1="438.6" x2="462" y2="438.6" stroke="#444444" stroke-width="1.1"/>
<text x="457.7" y="441.6" font-size="8.6" text-anchor="end" textLength="8.8" lengthAdjust="spacingAndGlyphs">60</text>
<line x1="458.8" y1="420.2" x2="462" y2="420.2" stroke="#444444" stroke-width="1.1"/>
<text x="457.7" y="423.2" font-size="8.6" text-anchor="end" textLength="8.8" lengthAdjust="spacingAndGlyphs">80</text>
<line x1="458.8" y1="401.8" x2="462" y2="401.8" stroke="#444444" stroke-width="1.1"/>
<text x="457.7" y="404.8" font-size="8.6" text-anchor="end" textLength="13" lengthAdjust="spacingAndGlyphs">100</text>
<line x1="461.35" y1="493.8" x2="512.2" y2="493.8" stroke="#444444" stroke-width="1.3"/>
<line x1="472.4" y1="493.8" x2="472.4" y2="496.8" stroke="#444444" stroke-width="1.1"/>
<line x1="487.5" y1="493.8" x2="487.5" y2="496.8" stroke="#444444" stroke-width="1.1"/>
<line x1="502.7" y1="493.8" x2="502.7" y2="496.8" stroke="#444444" stroke-width="1.1"/>
<text x="441.5" y="447.8" font-size="9.5" text-anchor="middle" textLength="60.2" lengthAdjust="spacingAndGlyphs" transform="rotate(-90 441.5 447.8)">CD107a+ NKs (%)</text>
<circle cx="472.9" cy="442.3" r="1.9" fill="#0b4b8f"/>
<circle cx="472.9" cy="449.7" r="1.9" fill="#0b4b8f"/>
<circle cx="472.4" cy="461" r="1.9" fill="#0b4b8f"/>
<circle cx="475.3" cy="464.9" r="1.9" fill="#0b4b8f"/>
<circle cx="470.2" cy="468.7" r="1.9" fill="#0b4b8f"/>
<line x1="467.6" y1="457.2" x2="477.6" y2="457.2" stroke="#333" stroke-width="1"/>
<line x1="472.6" y1="452.3" x2="472.6" y2="461.8" stroke="#333" stroke-width="1"/>
<line x1="470" y1="452.3" x2="475.2" y2="452.3" stroke="#333" stroke-width="1"/>
<line x1="470" y1="461.8" x2="475.2" y2="461.8" stroke="#333" stroke-width="1"/>
<circle cx="487.6" cy="419.4" r="1.9" fill="#c8102e"/>
<circle cx="487.6" cy="428.9" r="1.9" fill="#c8102e"/>
<circle cx="484.5" cy="436.4" r="1.9" fill="#c8102e"/>
<circle cx="489.7" cy="436.7" r="1.9" fill="#c8102e"/>
<circle cx="490.1" cy="445.4" r="1.9" fill="#c8102e"/>
<circle cx="485" cy="450.2" r="1.9" fill="#c8102e"/>
<line x1="482.5" y1="436.4" x2="492.5" y2="436.4" stroke="#333" stroke-width="1"/>
<line x1="487.5" y1="431.8" x2="487.5" y2="441.1" stroke="#333" stroke-width="1"/>
<line x1="484.9" y1="431.8" x2="490.1" y2="431.8" stroke="#333" stroke-width="1"/>
<line x1="484.9" y1="441.1" x2="490.1" y2="441.1" stroke="#333" stroke-width="1"/>
<circle cx="502.3" cy="449.2" r="1.9" fill="#17a837"/>
<circle cx="499.7" cy="457.5" r="1.9" fill="#17a837"/>
<circle cx="504.9" cy="457.5" r="1.9" fill="#17a837"/>
<circle cx="500.1" cy="470" r="1.9" fill="#17a837"/>
<circle cx="504.9" cy="470.5" r="1.9" fill="#17a837"/>
<circle cx="502.3" cy="474.5" r="1.9" fill="#17a837"/>
<line x1="497.6" y1="463.6" x2="507.6" y2="463.6" stroke="#333" stroke-width="1"/>
<line x1="502.6" y1="459.2" x2="502.6" y2="467.8" stroke="#333" stroke-width="1"/>
<line x1="500" y1="459.2" x2="505.2" y2="459.2" stroke="#333" stroke-width="1"/>
<line x1="500" y1="467.8" x2="505.2" y2="467.8" stroke="#333" stroke-width="1"/>
<path d="M470.7,409.8 Q470.7,408.2 471.9,408.2 L485.6,408.2 Q486.8,408.2 486.8,409.8" fill="none" stroke="#222" stroke-width="1"/>
<path d="M488,409.8 Q488,408.2 489.2,408.2 L503.2,408.2 Q504.4,408.2 504.4,409.8" fill="none" stroke="#222" stroke-width="1"/>
<polygon points="479.3,403.3 479.72,404.32 480.82,404.41 479.98,405.12 480.24,406.19 479.3,405.62 478.36,406.19 478.62,405.12 477.78,404.41 478.88,404.32" fill="#1e1e1e"/>
<polygon points="494.62,403.3 495.05,404.32 496.15,404.41 495.31,405.12 495.57,406.19 494.62,405.62 493.68,406.19 493.94,405.12 493.1,404.41 494.2,404.32" fill="#1e1e1e"/>
<polygon points="497.98,403.3 498.4,404.32 499.5,404.41 498.66,405.12 498.92,406.19 497.98,405.62 497.03,406.19 497.29,405.12 496.45,404.41 497.55,404.32" fill="#1e1e1e"/>
<text x="7.5" y="527.4" font-size="11" fill="#111" font-weight="bold">H</text>
<line x1="37.1" y1="626.2" x2="37.1" y2="530.9" stroke="#444444" stroke-width="1.3"/>
<line x1="33.9" y1="625.6" x2="37.1" y2="625.6" stroke="#444444" stroke-width="1.1"/>
<text x="31.5" y="628.6" font-size="8.6" text-anchor="end">0</text>
<line x1="33.9" y1="601.98" x2="37.1" y2="601.98" stroke="#444444" stroke-width="1.1"/>
<text x="31.5" y="604.98" font-size="8.6" text-anchor="end" textLength="8.8" lengthAdjust="spacingAndGlyphs">20</text>
<line x1="33.9" y1="578.36" x2="37.1" y2="578.36" stroke="#444444" stroke-width="1.1"/>
<text x="31.5" y="581.36" font-size="8.6" text-anchor="end" textLength="8.8" lengthAdjust="spacingAndGlyphs">40</text>
<line x1="33.9" y1="554.74" x2="37.1" y2="554.74" stroke="#444444" stroke-width="1.1"/>
<text x="31.5" y="557.74" font-size="8.6" text-anchor="end" textLength="8.8" lengthAdjust="spacingAndGlyphs">60</text>
<line x1="33.9" y1="531.12" x2="37.1" y2="531.12" stroke="#444444" stroke-width="1.1"/>
<text x="31.5" y="534.12" font-size="8.6" text-anchor="end" textLength="8.8" lengthAdjust="spacingAndGlyphs">80</text>
<line x1="36.45" y1="625.6" x2="89.3" y2="625.6" stroke="#444444" stroke-width="1.3"/>
<line x1="43" y1="625.6" x2="43" y2="628" stroke="#444444" stroke-width="1.1"/>
<line x1="53.3" y1="625.6" x2="53.3" y2="628" stroke="#444444" stroke-width="1.1"/>
<line x1="62.8" y1="625.6" x2="62.8" y2="628" stroke="#444444" stroke-width="1.1"/>
<line x1="72.5" y1="625.6" x2="72.5" y2="628" stroke="#444444" stroke-width="1.1"/>
<line x1="82.4" y1="625.6" x2="82.4" y2="628" stroke="#444444" stroke-width="1.1"/>
<line x1="37.1" y1="619.4" x2="89.3" y2="619.4" stroke="#333" stroke-width="0.8" stroke-dasharray="1,1.2"/>
<g opacity="0.7">
<line x1="43" y1="611.43" x2="43" y2="609.07" stroke="#c8102e" stroke-width="1.45"/>
<line x1="41.1" y1="609.07" x2="44.9" y2="609.07" stroke="#c8102e" stroke-width="1"/>
</g>
<g opacity="0.7">
<line x1="53.3" y1="592.53" x2="53.3" y2="587.81" stroke="#c8102e" stroke-width="1.45"/>
<line x1="51.4" y1="587.81" x2="55.2" y2="587.81" stroke="#c8102e" stroke-width="1"/>
</g>
<g opacity="0.7">
<line x1="62.8" y1="565.37" x2="62.8" y2="559.46" stroke="#c8102e" stroke-width="1.45"/>
<line x1="60.9" y1="559.46" x2="64.7" y2="559.46" stroke="#c8102e" stroke-width="1"/>
</g>
<g opacity="0.7">
<line x1="72.5" y1="552.38" x2="72.5" y2="546.47" stroke="#c8102e" stroke-width="1.45"/>
<line x1="70.6" y1="546.47" x2="74.4" y2="546.47" stroke="#c8102e" stroke-width="1"/>
</g>
<g opacity="0.7">
<line x1="82.4" y1="545.88" x2="82.4" y2="540.57" stroke="#c8102e" stroke-width="1.45"/>
<line x1="80.5" y1="540.57" x2="84.3" y2="540.57" stroke="#c8102e" stroke-width="1"/>
</g>
<g opacity="0.7">
<line x1="43" y1="618.51" x2="43" y2="617.1" stroke="#0b4b8f" stroke-width="1.45"/>
<line x1="41.1" y1="617.1" x2="44.9" y2="617.1" stroke="#0b4b8f" stroke-width="1"/>
</g>
<g opacity="0.7">
<line x1="53.3" y1="614.38" x2="53.3" y2="612.02" stroke="#0b4b8f" stroke-width="1.45"/>
<line x1="51.4" y1="612.02" x2="55.2" y2="612.02" stroke="#0b4b8f" stroke-width="1"/>
</g>
<g opacity="0.7">
<line x1="62.8" y1="605.52" x2="62.8" y2="601.98" stroke="#0b4b8f" stroke-width="1.45"/>
<line x1="60.9" y1="601.98" x2="64.7" y2="601.98" stroke="#0b4b8f" stroke-width="1"/>
</g>
<g opacity="0.7">
<line x1="72.5" y1="578.36" x2="72.5" y2="572.46" stroke="#0b4b8f" stroke-width="1.45"/>
<line x1="70.6" y1="572.46" x2="74.4" y2="572.46" stroke="#0b4b8f" stroke-width="1"/>
</g>
<g opacity="0.7">
<line x1="82.4" y1="564.78" x2="82.4" y2="561.24" stroke="#0b4b8f" stroke-width="1.45"/>
<line x1="80.5" y1="561.24" x2="84.3" y2="561.24" stroke="#0b4b8f" stroke-width="1"/>
</g>
<g opacity="0.7">
<line x1="72.5" y1="586.63" x2="72.5" y2="581.9" stroke="#17a837" stroke-width="1.45"/>
<line x1="70.6" y1="581.9" x2="74.4" y2="581.9" stroke="#17a837" stroke-width="1"/>
</g>
<g opacity="0.7">
<line x1="82.4" y1="573.64" x2="82.4" y2="570.09" stroke="#17a837" stroke-width="1.45"/>
<line x1="80.5" y1="570.09" x2="84.3" y2="570.09" stroke="#17a837" stroke-width="1"/>
</g>
<polyline points="43,619.7 53.3,617.33 62.8,609.07 72.5,586.63 82.4,573.64" fill="none" stroke="#17a837" stroke-width="1.5" stroke-linejoin="round"/>
<circle cx="43" cy="619.7" r="1.95" fill="#17a837"/>
<circle cx="53.3" cy="617.33" r="1.95" fill="#17a837"/>
<circle cx="62.8" cy="609.07" r="1.95" fill="#17a837"/>
<circle cx="72.5" cy="586.63" r="1.95" fill="#17a837"/>
<circle cx="82.4" cy="573.64" r="1.95" fill="#17a837"/>
<polyline points="43,618.51 53.3,614.38 62.8,605.52 72.5,578.36 82.4,564.78" fill="none" stroke="#0b4b8f" stroke-width="1.5" stroke-linejoin="round"/>
<circle cx="43" cy="618.51" r="1.95" fill="#0b4b8f"/>
<circle cx="53.3" cy="614.38" r="1.95" fill="#0b4b8f"/>
<circle cx="62.8" cy="605.52" r="1.95" fill="#0b4b8f"/>
<circle cx="72.5" cy="578.36" r="1.95" fill="#0b4b8f"/>
<circle cx="82.4" cy="564.78" r="1.95" fill="#0b4b8f"/>
<polyline points="43,611.43 53.3,592.53 62.8,565.37 72.5,552.38 82.4,545.88" fill="none" stroke="#c8102e" stroke-width="1.5" stroke-linejoin="round"/>
<circle cx="43" cy="611.43" r="1.95" fill="#c8102e"/>
<circle cx="53.3" cy="592.53" r="1.95" fill="#c8102e"/>
<circle cx="62.8" cy="565.37" r="1.95" fill="#c8102e"/>
<circle cx="72.5" cy="552.38" r="1.95" fill="#c8102e"/>
<circle cx="82.4" cy="545.88" r="1.95" fill="#c8102e"/>
<polygon points="51.62,582.4 52.05,583.42 53.15,583.51 52.31,584.22 52.57,585.29 51.62,584.72 50.68,585.29 50.94,584.22 50.1,583.51 51.2,583.42" fill="#1e1e1e"/>
<polygon points="54.98,582.4 55.4,583.42 56.5,583.51 55.66,584.22 55.92,585.29 54.98,584.72 54.03,585.29 54.29,584.22 53.45,583.51 54.55,583.42" fill="#1e1e1e"/>
<polygon points="59.45,554.2 59.87,555.22 60.97,555.31 60.13,556.02 60.39,557.09 59.45,556.52 58.51,557.09 58.77,556.02 57.93,555.31 59.03,555.22" fill="#1e1e1e"/>
<polygon points="62.8,554.2 63.22,555.22 64.32,555.31 63.48,556.02 63.74,557.09 62.8,556.52 61.86,557.09 62.12,556.02 61.28,555.31 62.38,555.22" fill="#1e1e1e"/>
<polygon points="66.15,554.2 66.57,555.22 67.67,555.31 66.83,556.02 67.09,557.09 66.15,556.52 65.21,557.09 65.47,556.02 64.63,555.31 65.73,555.22" fill="#1e1e1e"/>
<polygon points="72.5,541.6 72.92,542.62 74.02,542.71 73.18,543.42 73.44,544.49 72.5,543.92 71.56,544.49 71.82,543.42 70.98,542.71 72.08,542.62" fill="#1e1e1e"/>
<polygon points="82.4,535.7 82.82,536.72 83.92,536.81 83.08,537.52 83.34,538.59 82.4,538.02 81.46,538.59 81.72,537.52 80.88,536.81 81.98,536.72" fill="#1e1e1e"/>
<text x="16.9" y="578.9" font-size="9.5" text-anchor="middle" textLength="62" lengthAdjust="spacingAndGlyphs" transform="rotate(-90 16.9 578.9)">CD107a+ NKs (%)</text>
<text x="45.9" y="631.6" font-size="8.4" text-anchor="end" textLength="15.5" lengthAdjust="spacingAndGlyphs" transform="rotate(-90 45.9 631.6)">0.07</text>
<text x="56.2" y="631.6" font-size="8.4" text-anchor="end" textLength="11.3" lengthAdjust="spacingAndGlyphs" transform="rotate(-90 56.2 631.6)">0.7</text>
<text x="65.7" y="631.6" font-size="8.4" text-anchor="end" transform="rotate(-90 65.7 631.6)">7</text>
<text x="75.4" y="631.6" font-size="8.4" text-anchor="end" textLength="8.5" lengthAdjust="spacingAndGlyphs" transform="rotate(-90 75.4 631.6)">70</text>
<text x="85.3" y="631.6" font-size="8.4" text-anchor="end" textLength="13" lengthAdjust="spacingAndGlyphs" transform="rotate(-90 85.3 631.6)">700</text>
<text x="62.8" y="659.6" font-size="9.3" text-anchor="middle" textLength="45.6" lengthAdjust="spacingAndGlyphs">Ab conc. [pM]</text>
<rect x="0.55" y="0.55" width="518.9" height="666.9" fill="none" stroke="#161616" stroke-width="1.1"/>
</svg>
</body></html>
